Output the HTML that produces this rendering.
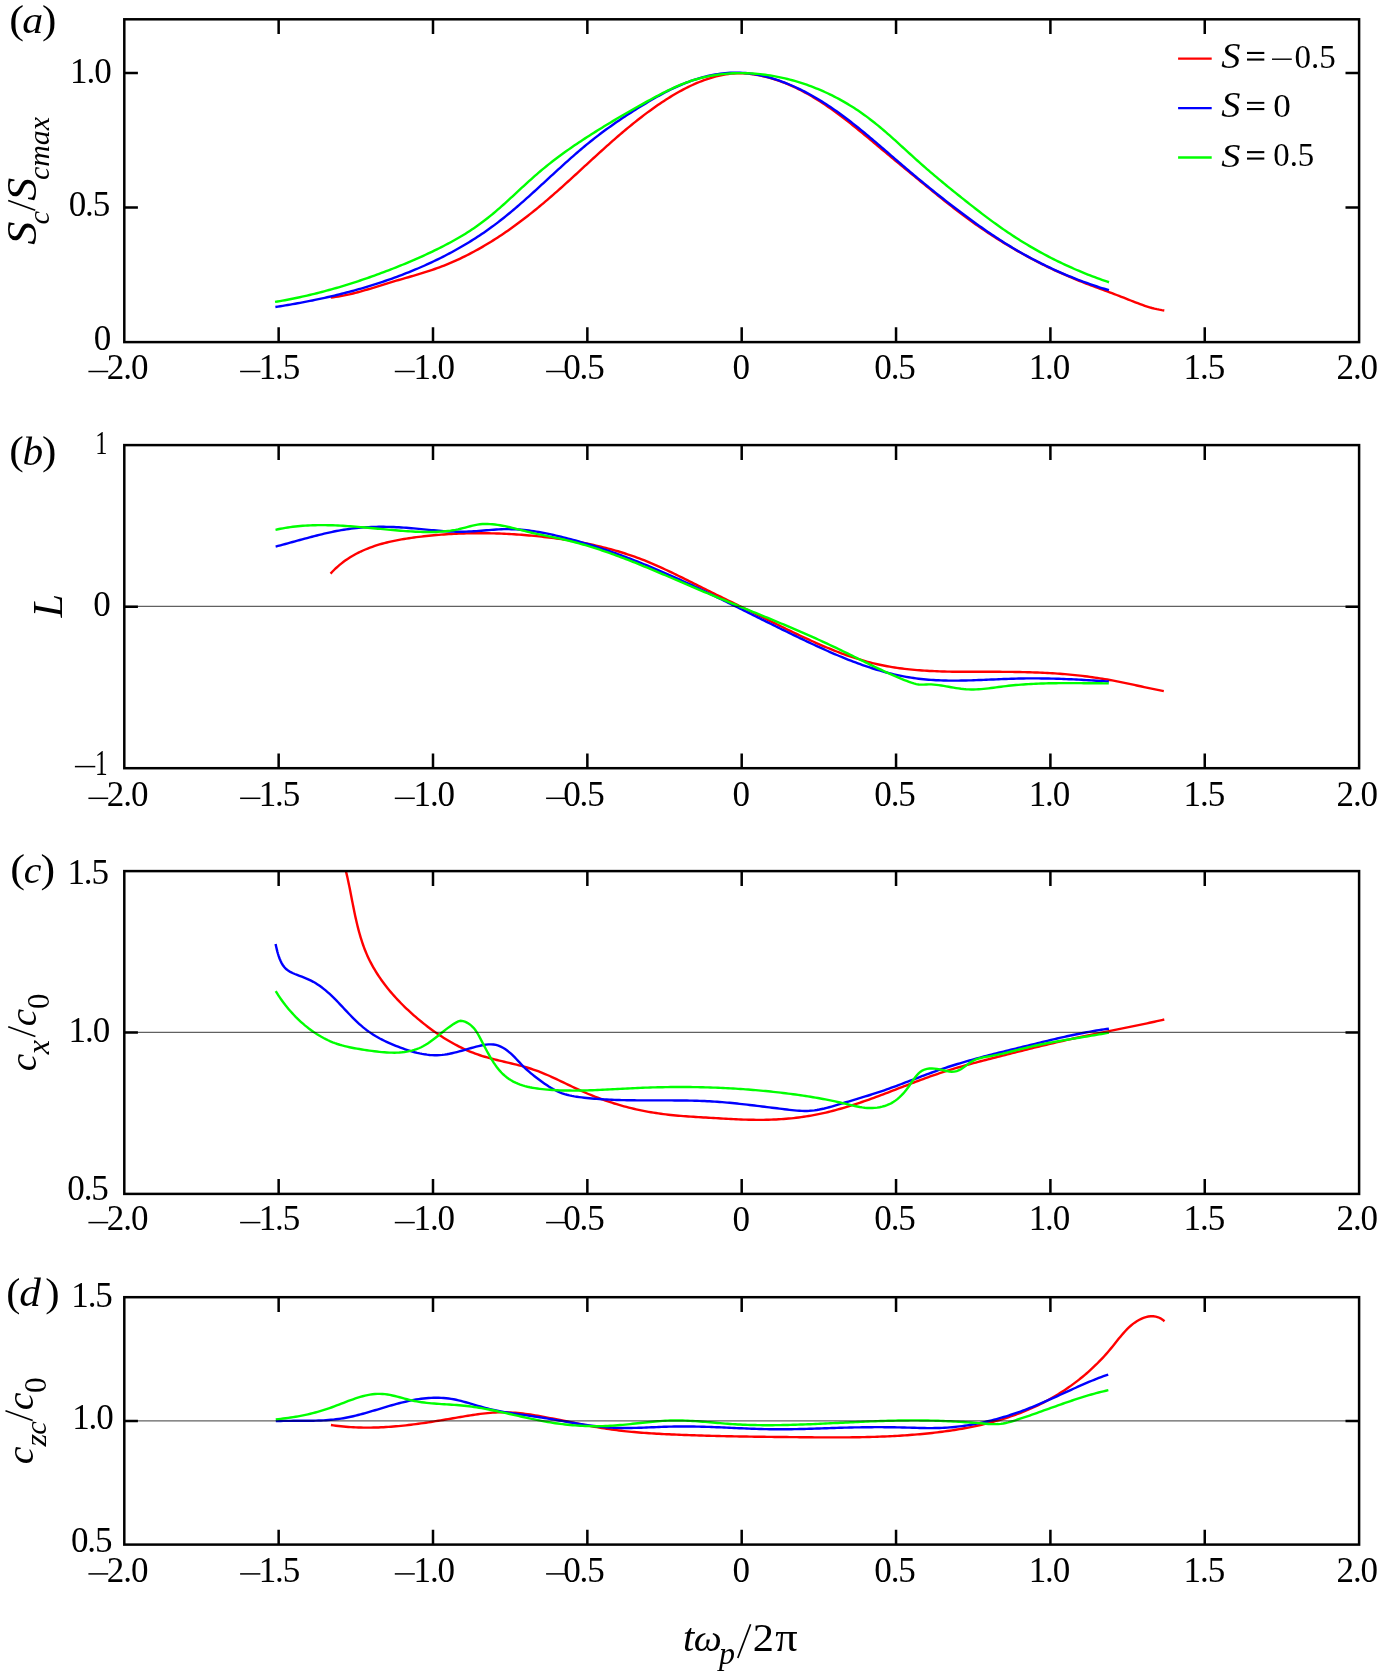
<!DOCTYPE html>
<html><head><meta charset="utf-8"><style>
html,body{margin:0;padding:0;background:#fff;}
body{width:1380px;height:1675px;overflow:hidden;}
svg{display:block;will-change:transform;}
text{font-family:"Liberation Serif",serif;fill:#000;font-kerning:none;}
.n{font-size:35px;letter-spacing:-1.1px;}
</style></head><body>
<svg width="1380" height="1675" viewBox="0 0 1380 1675">
<rect width="1380" height="1675" fill="#fff"/>
<path d="M330.75 297.51L333.24 297.22L335.73 296.88L338.21 296.51L340.68 296.09L343.15 295.64L345.61 295.15L348.07 294.62L350.52 294.07L352.96 293.48L355.39 292.87L357.82 292.24L360.24 291.58L362.66 290.90L365.07 290.21L367.48 289.50L369.88 288.78L372.28 288.05L374.68 287.31L377.08 286.57L379.48 285.83L381.87 285.08L384.27 284.34L386.67 283.60L389.07 282.87L391.48 282.15L393.88 281.43L396.29 280.72L398.70 280.02L401.11 279.32L403.52 278.62L405.93 277.93L408.34 277.23L410.75 276.52L413.16 275.82L415.57 275.11L417.97 274.39L420.37 273.66L422.77 272.92L425.16 272.16L427.55 271.40L429.94 270.62L432.32 269.82L434.69 269.00L437.06 268.16L439.42 267.30L441.76 266.42L444.10 265.51L446.44 264.58L448.76 263.63L451.07 262.65L453.37 261.66L455.67 260.64L457.95 259.60L460.23 258.54L462.49 257.45L464.75 256.35L466.99 255.23L469.23 254.09L471.45 252.93L473.67 251.75L475.88 250.56L478.07 249.34L480.26 248.11L482.44 246.86L484.60 245.59L486.76 244.31L488.91 243.01L491.05 241.70L493.17 240.37L495.29 239.02L497.40 237.66L499.50 236.29L501.59 234.90L503.68 233.50L505.75 232.08L507.81 230.66L509.87 229.21L511.91 227.76L513.95 226.30L515.98 224.82L518.00 223.33L520.01 221.83L522.02 220.32L524.01 218.80L526.00 217.26L527.98 215.72L529.95 214.17L531.92 212.61L533.88 211.04L535.83 209.46L537.77 207.87L539.71 206.27L541.64 204.67L543.56 203.05L545.47 201.43L547.38 199.80L549.29 198.17L551.19 196.53L553.08 194.88L554.96 193.22L556.85 191.56L558.73 189.90L560.60 188.23L562.47 186.55L564.33 184.87L566.20 183.19L568.06 181.51L569.91 179.82L571.77 178.13L573.62 176.43L575.47 174.74L577.32 173.04L579.17 171.34L581.01 169.64L582.86 167.94L584.71 166.24L586.55 164.54L588.40 162.84L590.25 161.14L592.09 159.44L593.95 157.75L595.80 156.05L597.65 154.36L599.51 152.67L601.37 150.99L603.23 149.30L605.09 147.63L606.96 145.95L608.84 144.28L610.71 142.61L612.60 140.95L614.48 139.30L616.38 137.65L618.27 136.01L620.18 134.37L622.09 132.74L624.00 131.12L625.93 129.51L627.86 127.91L629.79 126.31L631.74 124.72L633.69 123.14L635.65 121.58L637.62 120.02L639.60 118.47L641.58 116.94L643.58 115.41L645.58 113.90L647.59 112.40L649.61 110.92L651.65 109.44L653.69 107.98L655.74 106.54L657.80 105.11L659.87 103.69L661.96 102.29L664.05 100.91L666.16 99.55L668.28 98.20L670.41 96.88L672.55 95.57L674.71 94.29L676.88 93.03L679.07 91.80L681.27 90.59L683.49 89.41L685.71 88.26L687.96 87.14L690.22 86.04L692.49 84.98L694.78 83.96L697.09 82.96L699.41 82.01L701.75 81.09L704.10 80.21L706.46 79.37L708.84 78.57L711.24 77.82L713.64 77.11L716.06 76.45L718.50 75.84L720.95 75.29L723.41 74.79L725.88 74.35L728.36 73.98L730.85 73.68L733.35 73.45L735.86 73.29L738.36 73.21L740.87 73.21L743.38 73.29L745.89 73.45L748.39 73.67L750.88 73.96L753.37 74.31L755.84 74.72L758.31 75.17L760.77 75.67L763.22 76.22L765.66 76.81L768.09 77.44L770.51 78.12L772.91 78.83L775.30 79.59L777.69 80.38L780.05 81.21L782.41 82.08L784.75 82.99L787.08 83.93L789.39 84.91L791.69 85.92L793.97 86.96L796.24 88.03L798.49 89.13L800.73 90.26L802.96 91.42L805.17 92.61L807.37 93.82L809.55 95.06L811.72 96.32L813.88 97.60L816.02 98.91L818.15 100.24L820.27 101.58L822.38 102.95L824.47 104.34L826.55 105.74L828.62 107.16L830.68 108.60L832.72 110.05L834.76 111.51L836.79 112.99L838.81 114.49L840.82 115.99L842.82 117.51L844.81 119.03L846.79 120.57L848.77 122.12L850.74 123.67L852.70 125.23L854.66 126.80L856.61 128.38L858.56 129.96L860.50 131.55L862.44 133.15L864.38 134.74L866.31 136.35L868.24 137.95L870.17 139.56L872.10 141.17L874.02 142.78L875.94 144.39L877.87 146.00L879.79 147.61L881.72 149.22L883.65 150.83L885.57 152.44L887.50 154.04L889.43 155.65L891.36 157.25L893.29 158.85L895.23 160.46L897.16 162.06L899.09 163.66L901.03 165.26L902.96 166.85L904.90 168.45L906.84 170.05L908.77 171.64L910.71 173.24L912.65 174.83L914.59 176.43L916.53 178.02L918.47 179.61L920.41 181.20L922.35 182.79L924.29 184.39L926.23 185.98L928.18 187.56L930.12 189.15L932.07 190.74L934.01 192.32L935.96 193.90L937.91 195.48L939.87 197.05L941.83 198.62L943.79 200.19L945.75 201.75L947.72 203.31L949.69 204.86L951.67 206.41L953.65 207.95L955.64 209.49L957.63 211.01L959.62 212.53L961.62 214.05L963.63 215.55L965.65 217.05L967.67 218.54L969.69 220.02L971.73 221.49L973.77 222.95L975.81 224.41L977.87 225.85L979.93 227.28L982.00 228.70L984.07 230.12L986.15 231.52L988.24 232.91L990.34 234.30L992.44 235.67L994.54 237.03L996.66 238.38L998.78 239.73L1000.91 241.06L1003.04 242.38L1005.18 243.69L1007.33 244.99L1009.48 246.28L1011.64 247.56L1013.80 248.83L1015.98 250.09L1018.15 251.34L1020.34 252.57L1022.53 253.80L1024.72 255.01L1026.93 256.22L1029.13 257.41L1031.35 258.59L1033.57 259.76L1035.79 260.92L1038.03 262.07L1040.26 263.21L1042.51 264.33L1044.76 265.45L1047.01 266.55L1049.27 267.64L1051.54 268.72L1053.81 269.79L1056.08 270.85L1058.37 271.89L1060.65 272.93L1062.95 273.95L1065.24 274.96L1067.55 275.95L1069.85 276.94L1072.17 277.91L1074.49 278.88L1076.81 279.83L1079.14 280.77L1081.47 281.69L1083.81 282.61L1086.15 283.52L1088.49 284.42L1090.83 285.31L1093.18 286.20L1095.53 287.08L1097.88 287.96L1100.23 288.84L1102.59 289.71L1104.94 290.59L1107.29 291.46L1109.64 292.34L1111.99 293.22L1114.34 294.11L1116.69 295.00L1119.03 295.89L1121.37 296.80L1123.71 297.71L1126.05 298.63L1128.38 299.56L1130.71 300.49L1133.04 301.41L1135.38 302.33L1137.72 303.23L1140.07 304.11L1142.43 304.97L1144.80 305.79L1147.19 306.57L1149.59 307.31L1152.00 308.00L1154.43 308.63L1156.87 309.19L1159.33 309.69L1161.81 310.11L1164.29 310.46" stroke="#f00" stroke-width="2.4" fill="none"/>
<path d="M275.37 307.01L277.85 306.63L280.33 306.24L282.80 305.84L285.28 305.44L287.75 305.03L290.22 304.61L292.69 304.18L295.16 303.74L297.63 303.30L300.10 302.84L302.56 302.38L305.02 301.91L307.48 301.43L309.94 300.94L312.40 300.45L314.86 299.94L317.31 299.43L319.76 298.90L322.21 298.37L324.66 297.83L327.11 297.28L329.55 296.72L331.99 296.15L334.43 295.57L336.87 294.98L339.30 294.38L341.73 293.77L344.16 293.15L346.59 292.52L349.01 291.88L351.44 291.23L353.86 290.57L356.27 289.90L358.68 289.22L361.09 288.53L363.50 287.83L365.90 287.12L368.31 286.39L370.70 285.66L373.10 284.91L375.49 284.15L377.87 283.38L380.26 282.60L382.63 281.81L385.01 281.01L387.38 280.19L389.75 279.37L392.11 278.53L394.47 277.68L396.82 276.82L399.17 275.94L401.52 275.05L403.86 274.15L406.19 273.24L408.52 272.32L410.85 271.38L413.17 270.43L415.48 269.46L417.79 268.49L420.10 267.50L422.39 266.49L424.68 265.48L426.97 264.45L429.25 263.40L431.52 262.35L433.79 261.28L436.05 260.19L438.30 259.09L440.55 257.98L442.79 256.85L445.02 255.71L447.25 254.55L449.47 253.38L451.68 252.20L453.88 251.00L456.07 249.79L458.26 248.56L460.43 247.32L462.60 246.06L464.76 244.78L466.91 243.50L469.06 242.19L471.19 240.87L473.31 239.54L475.42 238.19L477.53 236.83L479.62 235.45L481.70 234.05L483.78 232.64L485.84 231.21L487.89 229.77L489.93 228.31L491.96 226.84L493.97 225.35L495.98 223.85L497.97 222.33L499.96 220.79L501.93 219.25L503.90 217.69L505.85 216.12L507.80 214.54L509.73 212.95L511.66 211.34L513.58 209.73L515.49 208.11L517.40 206.48L519.29 204.84L521.18 203.19L523.07 201.54L524.95 199.88L526.82 198.21L528.69 196.54L530.56 194.87L532.42 193.18L534.27 191.50L536.13 189.81L537.98 188.12L539.83 186.43L541.67 184.73L543.52 183.03L545.36 181.34L547.21 179.64L549.05 177.94L550.89 176.24L552.74 174.54L554.59 172.84L556.43 171.15L558.28 169.46L560.13 167.77L561.99 166.08L563.85 164.40L565.71 162.72L567.58 161.05L569.45 159.38L571.33 157.71L573.21 156.06L575.09 154.41L576.99 152.76L578.89 151.13L580.80 149.50L582.71 147.88L584.64 146.28L586.57 144.68L588.51 143.09L590.46 141.51L592.42 139.95L594.39 138.40L596.37 136.86L598.35 135.33L600.35 133.81L602.36 132.31L604.37 130.82L606.39 129.33L608.42 127.86L610.46 126.41L612.51 124.96L614.56 123.52L616.62 122.09L618.69 120.68L620.77 119.27L622.85 117.87L624.94 116.49L627.03 115.11L629.14 113.74L631.24 112.38L633.35 111.03L635.47 109.69L637.60 108.35L639.72 107.03L641.86 105.71L644.00 104.40L646.14 103.10L648.29 101.82L650.45 100.54L652.62 99.28L654.79 98.03L656.97 96.80L659.16 95.58L661.37 94.38L663.58 93.20L665.80 92.04L668.03 90.89L670.28 89.78L672.53 88.68L674.80 87.61L677.08 86.57L679.37 85.55L681.67 84.56L683.99 83.61L686.32 82.68L688.66 81.79L691.02 80.93L693.39 80.11L695.77 79.32L698.16 78.58L700.57 77.87L702.99 77.20L705.41 76.58L707.85 75.99L710.30 75.45L712.76 74.95L715.22 74.50L717.70 74.10L720.18 73.75L722.67 73.44L725.16 73.18L727.66 72.98L730.16 72.82L732.67 72.73L735.18 72.68L737.68 72.69L740.19 72.76L742.69 72.89L745.19 73.07L747.69 73.31L750.18 73.60L752.66 73.94L755.14 74.34L757.61 74.78L760.07 75.26L762.52 75.80L764.96 76.37L767.39 76.99L769.80 77.65L772.21 78.35L774.61 79.09L776.99 79.87L779.36 80.68L781.72 81.53L784.07 82.41L786.41 83.32L788.73 84.26L791.04 85.24L793.34 86.24L795.62 87.27L797.89 88.33L800.15 89.42L802.40 90.53L804.63 91.67L806.86 92.83L809.06 94.02L811.26 95.23L813.44 96.47L815.61 97.72L817.77 99.00L819.91 100.30L822.05 101.62L824.17 102.95L826.28 104.31L828.37 105.68L830.46 107.08L832.53 108.48L834.60 109.91L836.65 111.35L838.69 112.80L840.72 114.27L842.75 115.75L844.76 117.25L846.76 118.76L848.76 120.28L850.74 121.81L852.72 123.35L854.69 124.90L856.65 126.46L858.61 128.03L860.56 129.60L862.50 131.19L864.44 132.78L866.37 134.38L868.29 135.99L870.22 137.60L872.13 139.21L874.04 140.83L875.95 142.46L877.86 144.09L879.76 145.72L881.66 147.35L883.56 148.99L885.46 150.63L887.36 152.27L889.25 153.91L891.15 155.55L893.04 157.19L894.94 158.83L896.84 160.47L898.74 162.11L900.64 163.75L902.54 165.38L904.44 167.01L906.35 168.63L908.26 170.26L910.18 171.88L912.10 173.49L914.02 175.10L915.94 176.71L917.87 178.31L919.80 179.91L921.73 181.51L923.67 183.10L925.61 184.69L927.55 186.28L929.50 187.86L931.45 189.43L933.40 191.00L935.36 192.57L937.32 194.14L939.28 195.70L941.24 197.25L943.21 198.80L945.19 200.35L947.16 201.89L949.14 203.43L951.13 204.96L953.11 206.49L955.10 208.02L957.10 209.54L959.09 211.06L961.09 212.57L963.10 214.07L965.11 215.58L967.12 217.07L969.14 218.56L971.16 220.04L973.18 221.52L975.22 222.99L977.25 224.45L979.29 225.91L981.34 227.35L983.39 228.79L985.45 230.22L987.52 231.65L989.59 233.06L991.67 234.46L993.75 235.86L995.84 237.24L997.94 238.61L1000.04 239.98L1002.16 241.33L1004.27 242.67L1006.40 244.00L1008.53 245.31L1010.68 246.62L1012.82 247.91L1014.98 249.19L1017.14 250.46L1019.31 251.71L1021.49 252.95L1023.68 254.18L1025.87 255.40L1028.07 256.60L1030.27 257.79L1032.49 258.97L1034.71 260.14L1036.93 261.29L1039.17 262.43L1041.41 263.56L1043.65 264.67L1045.91 265.77L1048.17 266.86L1050.43 267.93L1052.70 268.99L1054.98 270.04L1057.27 271.07L1059.56 272.09L1061.85 273.10L1064.16 274.09L1066.46 275.07L1068.78 276.03L1071.10 276.98L1073.43 277.92L1075.76 278.84L1078.09 279.75L1080.44 280.64L1082.78 281.52L1085.14 282.38L1087.50 283.23L1089.86 284.07L1092.23 284.89L1094.60 285.70L1096.98 286.49L1099.37 287.27L1101.75 288.03L1104.15 288.77L1106.55 289.51L1108.95 290.22" stroke="#00f" stroke-width="2.4" fill="none"/>
<path d="M275.04 301.94L277.52 301.52L279.99 301.09L282.47 300.65L284.94 300.20L287.40 299.73L289.87 299.26L292.33 298.77L294.79 298.27L297.25 297.75L299.70 297.23L302.16 296.69L304.61 296.14L307.05 295.58L309.50 295.01L311.94 294.42L314.38 293.83L316.82 293.22L319.25 292.61L321.68 291.98L324.11 291.34L326.54 290.69L328.96 290.03L331.38 289.36L333.79 288.68L336.21 287.98L338.62 287.28L341.03 286.57L343.43 285.85L345.83 285.11L348.23 284.37L350.63 283.62L353.02 282.85L355.41 282.08L357.79 281.30L360.18 280.51L362.56 279.71L364.93 278.90L367.31 278.08L369.68 277.25L372.04 276.42L374.41 275.57L376.77 274.72L379.13 273.85L381.48 272.98L383.83 272.10L386.18 271.21L388.53 270.32L390.87 269.41L393.21 268.50L395.54 267.58L397.88 266.65L400.21 265.71L402.53 264.76L404.85 263.81L407.17 262.84L409.48 261.87L411.79 260.88L414.10 259.89L416.40 258.88L418.70 257.87L420.99 256.84L423.28 255.80L425.56 254.76L427.83 253.70L430.11 252.63L432.37 251.55L434.63 250.45L436.89 249.35L439.14 248.23L441.38 247.10L443.61 245.96L445.84 244.80L448.06 243.63L450.28 242.45L452.48 241.25L454.68 240.03L456.86 238.79L459.04 237.54L461.20 236.27L463.35 234.97L465.49 233.66L467.62 232.32L469.73 230.96L471.83 229.58L473.91 228.18L475.98 226.75L478.03 225.30L480.06 223.83L482.08 222.34L484.08 220.82L486.07 219.29L488.04 217.73L490.00 216.16L491.94 214.57L493.87 212.96L495.79 211.34L497.69 209.71L499.59 208.06L501.47 206.40L503.35 204.73L505.22 203.05L507.08 201.37L508.93 199.67L510.78 197.98L512.63 196.27L514.47 194.57L516.31 192.86L518.15 191.15L519.99 189.45L521.84 187.74L523.68 186.04L525.53 184.34L527.38 182.64L529.24 180.96L531.10 179.27L532.98 177.60L534.86 175.94L536.75 174.28L538.65 172.64L540.56 171.02L542.48 169.40L544.42 167.81L546.37 166.22L548.33 164.65L550.30 163.09L552.27 161.55L554.26 160.01L556.26 158.49L558.27 156.99L560.29 155.49L562.31 154.01L564.35 152.54L566.39 151.07L568.44 149.62L570.50 148.19L572.56 146.76L574.63 145.34L576.71 143.93L578.79 142.53L580.88 141.14L582.98 139.75L585.08 138.38L587.19 137.01L589.30 135.65L591.42 134.30L593.54 132.96L595.66 131.62L597.79 130.29L599.92 128.96L602.06 127.65L604.20 126.33L606.35 125.03L608.49 123.73L610.65 122.43L612.80 121.15L614.96 119.86L617.12 118.58L619.28 117.31L621.45 116.04L623.62 114.78L625.79 113.52L627.97 112.27L630.15 111.02L632.33 109.78L634.51 108.53L636.70 107.30L638.88 106.06L641.07 104.83L643.26 103.61L645.46 102.38L647.65 101.17L649.85 99.95L652.05 98.75L654.26 97.55L656.47 96.36L658.69 95.19L660.92 94.03L663.15 92.88L665.40 91.75L667.65 90.65L669.91 89.56L672.18 88.49L674.47 87.45L676.76 86.43L679.07 85.44L681.39 84.48L683.73 83.56L686.07 82.67L688.43 81.81L690.81 80.99L693.19 80.21L695.60 79.48L698.01 78.79L700.43 78.13L702.87 77.52L705.31 76.95L707.77 76.42L710.23 75.94L712.70 75.49L715.18 75.08L717.66 74.71L720.15 74.38L722.65 74.10L725.15 73.84L727.65 73.63L730.15 73.46L732.66 73.32L735.17 73.22L737.68 73.16L740.19 73.13L742.70 73.14L745.21 73.18L747.72 73.26L750.23 73.38L752.73 73.52L755.24 73.71L757.74 73.92L760.24 74.17L762.73 74.45L765.22 74.77L767.71 75.11L770.19 75.49L772.67 75.90L775.14 76.34L777.61 76.81L780.07 77.31L782.52 77.84L784.97 78.40L787.41 78.99L789.85 79.61L792.27 80.25L794.69 80.93L797.10 81.63L799.50 82.37L801.89 83.13L804.28 83.91L806.65 84.73L809.02 85.57L811.37 86.44L813.72 87.34L816.05 88.26L818.38 89.21L820.69 90.19L823.00 91.19L825.29 92.22L827.57 93.27L829.83 94.35L832.09 95.45L834.33 96.58L836.56 97.74L838.78 98.92L840.98 100.12L843.17 101.35L845.35 102.60L847.51 103.88L849.66 105.18L851.79 106.50L853.91 107.85L856.01 109.22L858.10 110.61L860.18 112.02L862.24 113.46L864.28 114.92L866.31 116.40L868.32 117.90L870.32 119.43L872.30 120.96L874.27 122.52L876.23 124.10L878.17 125.68L880.10 127.29L882.03 128.90L883.94 130.53L885.84 132.17L887.74 133.81L889.62 135.47L891.50 137.13L893.38 138.81L895.24 140.48L897.11 142.17L898.97 143.85L900.82 145.54L902.68 147.24L904.53 148.93L906.39 150.62L908.24 152.32L910.09 154.01L911.95 155.70L913.81 157.39L915.67 159.07L917.54 160.75L919.41 162.42L921.29 164.09L923.17 165.75L925.06 167.40L926.96 169.05L928.86 170.69L930.76 172.33L932.67 173.96L934.59 175.58L936.51 177.20L938.43 178.81L940.36 180.42L942.29 182.03L944.23 183.63L946.17 185.22L948.11 186.81L950.05 188.40L952.00 189.98L953.96 191.56L955.91 193.14L957.87 194.71L959.83 196.28L961.79 197.84L963.76 199.41L965.72 200.97L967.69 202.53L969.66 204.08L971.64 205.63L973.61 207.18L975.59 208.73L977.58 210.27L979.56 211.80L981.55 213.33L983.55 214.85L985.55 216.37L987.56 217.88L989.57 219.38L991.59 220.87L993.62 222.36L995.65 223.83L997.69 225.30L999.73 226.75L1001.78 228.20L1003.85 229.63L1005.91 231.06L1007.99 232.47L1010.08 233.86L1012.17 235.25L1014.27 236.62L1016.38 237.98L1018.50 239.33L1020.63 240.66L1022.76 241.99L1024.91 243.29L1027.06 244.59L1029.22 245.87L1031.38 247.14L1033.56 248.40L1035.74 249.64L1037.93 250.87L1040.12 252.09L1042.33 253.30L1044.54 254.49L1046.75 255.66L1048.98 256.83L1051.21 257.98L1053.45 259.12L1055.69 260.24L1057.95 261.35L1060.20 262.45L1062.47 263.53L1064.74 264.60L1067.02 265.65L1069.30 266.69L1071.60 267.72L1073.89 268.74L1076.20 269.74L1078.50 270.72L1080.82 271.69L1083.14 272.65L1085.47 273.60L1087.80 274.53L1090.14 275.44L1092.48 276.34L1094.83 277.23L1097.18 278.10L1099.54 278.96L1101.91 279.81L1104.28 280.64L1106.65 281.45L1109.03 282.25" stroke="#0f0" stroke-width="2.4" fill="none"/>
<path d="M330.57 573.61L332.28 571.77L334.04 569.98L335.85 568.24L337.71 566.56L339.62 564.92L341.56 563.34L343.55 561.81L345.59 560.34L347.65 558.92L349.76 557.56L351.90 556.25L354.07 554.99L356.28 553.79L358.51 552.64L360.76 551.54L363.04 550.50L365.34 549.50L367.67 548.55L370.01 547.64L372.36 546.79L374.74 545.97L377.12 545.20L379.52 544.46L381.94 543.77L384.36 543.11L386.79 542.49L389.23 541.90L391.67 541.34L394.13 540.82L396.59 540.32L399.05 539.85L401.52 539.40L403.99 538.98L406.47 538.58L408.95 538.21L411.43 537.85L413.92 537.51L416.41 537.18L418.90 536.88L421.39 536.58L423.88 536.30L426.38 536.03L428.87 535.77L431.37 535.53L433.87 535.29L436.37 535.07L438.87 534.87L441.37 534.67L443.87 534.49L446.38 534.32L448.88 534.16L451.39 534.02L453.89 533.89L456.40 533.77L458.91 533.66L461.41 533.57L463.92 533.48L466.43 533.41L468.94 533.35L471.45 533.31L473.96 533.27L476.46 533.25L478.97 533.24L481.48 533.24L483.99 533.25L486.50 533.28L489.01 533.31L491.52 533.36L494.03 533.42L496.54 533.49L499.04 533.57L501.55 533.67L504.06 533.77L506.56 533.89L509.07 534.02L511.58 534.16L514.08 534.30L516.58 534.47L519.09 534.64L521.59 534.82L524.09 535.01L526.59 535.22L529.09 535.43L531.59 535.66L534.09 535.89L536.59 536.14L539.08 536.39L541.58 536.66L544.07 536.94L546.56 537.22L549.06 537.52L551.55 537.83L554.03 538.15L556.52 538.48L559.01 538.83L561.49 539.18L563.97 539.55L566.45 539.93L568.93 540.33L571.41 540.73L573.88 541.15L576.35 541.59L578.82 542.03L581.29 542.50L583.75 542.97L586.21 543.46L588.67 543.97L591.12 544.49L593.58 545.02L596.02 545.57L598.47 546.14L600.91 546.72L603.35 547.32L605.78 547.94L608.21 548.57L610.63 549.22L613.05 549.89L615.46 550.57L617.87 551.27L620.27 551.99L622.67 552.73L625.06 553.49L627.45 554.27L629.83 555.06L632.20 555.88L634.57 556.71L636.93 557.56L639.28 558.44L641.63 559.33L643.96 560.24L646.29 561.18L648.62 562.13L650.93 563.09L653.24 564.08L655.54 565.08L657.83 566.09L660.12 567.12L662.41 568.16L664.68 569.22L666.96 570.28L669.23 571.35L671.49 572.43L673.75 573.52L676.01 574.62L678.26 575.73L680.51 576.84L682.76 577.95L685.00 579.07L687.25 580.19L689.49 581.31L691.73 582.44L693.98 583.57L696.22 584.69L698.46 585.81L700.71 586.94L702.95 588.06L705.20 589.17L707.45 590.29L709.70 591.40L711.95 592.51L714.20 593.62L716.45 594.73L718.70 595.83L720.95 596.94L723.21 598.04L725.46 599.14L727.72 600.24L729.97 601.34L732.23 602.44L734.48 603.54L736.74 604.64L739.00 605.74L741.25 606.84L743.51 607.94L745.76 609.04L748.02 610.14L750.27 611.24L752.53 612.34L754.78 613.44L757.03 614.55L759.28 615.66L761.54 616.76L763.79 617.87L766.04 618.98L768.29 620.09L770.53 621.21L772.78 622.32L775.03 623.43L777.28 624.54L779.54 625.65L781.79 626.75L784.04 627.86L786.30 628.96L788.55 630.06L790.81 631.15L793.07 632.24L795.33 633.33L797.60 634.41L799.86 635.48L802.14 636.55L804.41 637.61L806.69 638.66L808.97 639.71L811.25 640.75L813.54 641.78L815.83 642.80L818.13 643.81L820.43 644.81L822.73 645.81L825.04 646.79L827.36 647.75L829.68 648.71L832.00 649.65L834.33 650.58L836.67 651.50L839.01 652.40L841.36 653.28L843.71 654.15L846.07 655.00L848.44 655.84L850.81 656.65L853.19 657.45L855.58 658.23L857.97 658.98L860.37 659.72L862.77 660.43L865.19 661.12L867.61 661.79L870.03 662.43L872.46 663.05L874.90 663.65L877.34 664.21L879.79 664.75L882.25 665.27L884.71 665.76L887.18 666.22L889.65 666.66L892.12 667.08L894.60 667.47L897.08 667.84L899.57 668.19L902.05 668.52L904.54 668.83L907.04 669.12L909.53 669.39L912.03 669.64L914.53 669.87L917.03 670.09L919.53 670.29L922.03 670.47L924.53 670.64L927.04 670.79L929.54 670.93L932.05 671.06L934.56 671.17L937.06 671.28L939.57 671.37L942.08 671.45L944.59 671.52L947.09 671.58L949.60 671.63L952.11 671.68L954.62 671.71L957.13 671.74L959.64 671.77L962.15 671.79L964.66 671.80L967.17 671.81L969.68 671.82L972.18 671.82L974.69 671.82L977.20 671.82L979.71 671.81L982.22 671.81L984.73 671.81L987.24 671.80L989.75 671.80L992.26 671.80L994.77 671.81L997.28 671.81L999.79 671.82L1002.29 671.83L1004.80 671.85L1007.31 671.86L1009.82 671.89L1012.33 671.92L1014.84 671.95L1017.35 671.99L1019.86 672.03L1022.37 672.08L1024.88 672.13L1027.38 672.20L1029.89 672.27L1032.40 672.34L1034.91 672.43L1037.42 672.52L1039.92 672.62L1042.43 672.73L1044.94 672.85L1047.44 672.97L1049.95 673.11L1052.45 673.26L1054.96 673.42L1057.46 673.58L1059.96 673.76L1062.46 673.95L1064.97 674.15L1067.47 674.37L1069.96 674.59L1072.46 674.83L1074.96 675.08L1077.45 675.35L1079.95 675.63L1082.44 675.92L1084.93 676.22L1087.42 676.54L1089.91 676.87L1092.39 677.21L1094.88 677.57L1097.36 677.94L1099.84 678.32L1102.32 678.72L1104.79 679.12L1107.27 679.54L1109.74 679.98L1112.21 680.42L1114.67 680.88L1117.14 681.35L1119.60 681.83L1122.06 682.33L1124.52 682.83L1126.97 683.35L1129.43 683.87L1131.88 684.40L1134.33 684.93L1136.78 685.47L1139.23 686.01L1141.69 686.54L1144.14 687.08L1146.59 687.61L1149.04 688.13L1151.50 688.65L1153.96 689.16L1156.41 689.66L1158.88 690.14L1161.34 690.61L1163.81 691.07" stroke="#f00" stroke-width="2.4" fill="none"/>
<path d="M275.64 546.55L278.07 545.92L280.50 545.29L282.92 544.65L285.34 544.00L287.76 543.34L290.18 542.68L292.60 542.02L295.02 541.35L297.43 540.69L299.85 540.02L302.27 539.36L304.69 538.70L307.11 538.04L309.53 537.39L311.96 536.75L314.38 536.12L316.81 535.50L319.25 534.89L321.68 534.29L324.12 533.70L326.56 533.14L329.01 532.58L331.46 532.05L333.91 531.54L336.37 531.04L338.83 530.57L341.30 530.13L343.77 529.71L346.25 529.32L348.73 528.95L351.22 528.62L353.71 528.31L356.20 528.04L358.69 527.79L361.19 527.58L363.69 527.39L366.20 527.23L368.70 527.10L371.21 526.99L373.71 526.91L376.22 526.85L378.73 526.82L381.23 526.81L383.74 526.82L386.25 526.85L388.76 526.91L391.26 526.98L393.77 527.07L396.27 527.18L398.78 527.31L401.28 527.45L403.78 527.61L406.28 527.79L408.79 527.98L411.28 528.19L413.78 528.40L416.28 528.63L418.78 528.87L421.27 529.11L423.77 529.35L426.26 529.60L428.76 529.84L431.26 530.08L433.75 530.31L436.25 530.54L438.75 530.75L441.25 530.94L443.75 531.13L446.25 531.29L448.76 531.43L451.26 531.54L453.77 531.63L456.27 531.69L458.78 531.72L461.29 531.72L463.80 531.68L466.30 531.61L468.81 531.51L471.31 531.39L473.82 531.24L476.32 531.08L478.82 530.90L481.32 530.71L483.82 530.51L486.32 530.31L488.82 530.11L491.32 529.90L493.82 529.71L496.32 529.53L498.82 529.37L501.33 529.25L503.83 529.17L506.34 529.13L508.85 529.13L511.36 529.18L513.86 529.27L516.37 529.39L518.87 529.56L521.37 529.76L523.86 529.99L526.36 530.26L528.85 530.56L531.33 530.89L533.82 531.24L536.29 531.63L538.77 532.04L541.24 532.48L543.70 532.94L546.16 533.43L548.62 533.93L551.07 534.45L553.52 535.00L555.96 535.55L558.40 536.13L560.84 536.71L563.28 537.32L565.71 537.93L568.14 538.56L570.56 539.20L572.98 539.85L575.40 540.51L577.82 541.19L580.23 541.87L582.63 542.57L585.04 543.28L587.44 544.00L589.84 544.74L592.23 545.48L594.63 546.24L597.01 547.00L599.40 547.78L601.78 548.56L604.16 549.36L606.53 550.16L608.90 550.98L611.27 551.80L613.64 552.64L616.00 553.48L618.36 554.33L620.71 555.19L623.06 556.06L625.41 556.94L627.76 557.83L630.10 558.72L632.44 559.63L634.78 560.54L637.11 561.46L639.44 562.38L641.77 563.32L644.09 564.26L646.41 565.21L648.73 566.16L651.05 567.12L653.36 568.09L655.67 569.07L657.98 570.05L660.28 571.04L662.59 572.03L664.89 573.03L667.18 574.04L669.48 575.05L671.77 576.06L674.06 577.09L676.35 578.11L678.63 579.15L680.91 580.18L683.20 581.23L685.47 582.27L687.75 583.32L690.03 584.38L692.30 585.44L694.57 586.50L696.84 587.57L699.10 588.64L701.37 589.72L703.63 590.80L705.90 591.88L708.16 592.97L710.42 594.05L712.67 595.14L714.93 596.24L717.18 597.33L719.44 598.43L721.69 599.53L723.94 600.64L726.19 601.74L728.44 602.85L730.69 603.96L732.94 605.07L735.19 606.18L737.44 607.29L739.68 608.41L741.93 609.52L744.18 610.64L746.42 611.75L748.67 612.87L750.91 613.99L753.16 615.10L755.40 616.22L757.65 617.34L759.89 618.45L762.14 619.57L764.38 620.69L766.63 621.80L768.88 622.92L771.12 624.03L773.37 625.14L775.62 626.25L777.87 627.36L780.12 628.47L782.37 629.57L784.62 630.68L786.87 631.78L789.13 632.88L791.38 633.97L793.64 635.07L795.90 636.16L798.15 637.25L800.41 638.34L802.68 639.42L804.94 640.50L807.20 641.58L809.47 642.65L811.74 643.72L814.01 644.78L816.29 645.83L818.56 646.88L820.84 647.93L823.13 648.96L825.41 649.99L827.70 651.02L830.00 652.03L832.30 653.03L834.60 654.03L836.90 655.01L839.21 655.99L841.53 656.95L843.85 657.90L846.17 658.84L848.50 659.77L850.84 660.68L853.18 661.59L855.52 662.47L857.87 663.35L860.23 664.20L862.59 665.05L864.96 665.87L867.33 666.68L869.71 667.47L872.10 668.25L874.49 669.00L876.89 669.74L879.29 670.45L881.70 671.15L884.12 671.82L886.54 672.48L888.96 673.11L891.40 673.72L893.83 674.30L896.28 674.86L898.73 675.40L901.18 675.91L903.64 676.39L906.11 676.85L908.58 677.28L911.05 677.68L913.53 678.06L916.02 678.40L918.51 678.72L921.00 679.01L923.49 679.27L925.99 679.50L928.49 679.71L930.99 679.90L933.49 680.06L935.99 680.20L938.50 680.31L941.00 680.41L943.51 680.49L946.02 680.54L948.52 680.58L951.03 680.61L953.54 680.62L956.05 680.61L958.55 680.59L961.06 680.56L963.57 680.52L966.08 680.47L968.58 680.40L971.09 680.33L973.60 680.25L976.10 680.17L978.61 680.07L981.11 679.98L983.62 679.88L986.12 679.77L988.63 679.66L991.14 679.56L993.64 679.45L996.15 679.34L998.65 679.23L1001.16 679.13L1003.66 679.03L1006.17 678.93L1008.67 678.84L1011.18 678.75L1013.69 678.68L1016.19 678.61L1018.70 678.54L1021.21 678.49L1023.71 678.45L1026.22 678.42L1028.73 678.40L1031.24 678.39L1033.75 678.38L1036.25 678.39L1038.76 678.40L1041.27 678.43L1043.78 678.46L1046.28 678.50L1048.79 678.55L1051.30 678.60L1053.80 678.67L1056.31 678.74L1058.82 678.81L1061.32 678.90L1063.83 678.99L1066.33 679.09L1068.84 679.19L1071.35 679.30L1073.85 679.42L1076.35 679.54L1078.86 679.67L1081.36 679.80L1083.87 679.94L1086.37 680.08L1088.87 680.22L1091.38 680.37L1093.88 680.52L1096.38 680.68L1098.89 680.84L1101.39 681.00L1103.89 681.17L1106.39 681.34L1108.89 681.51" stroke="#00f" stroke-width="2.4" fill="none"/>
<path d="M275.51 529.81L277.96 529.28L280.42 528.78L282.89 528.32L285.37 527.89L287.84 527.50L290.33 527.14L292.82 526.81L295.31 526.52L297.81 526.25L300.31 526.02L302.81 525.81L305.31 525.64L307.82 525.49L310.33 525.36L312.83 525.27L315.34 525.20L317.85 525.15L320.36 525.13L322.87 525.13L325.38 525.14L327.89 525.18L330.40 525.24L332.91 525.32L335.42 525.41L337.93 525.52L340.43 525.65L342.94 525.79L345.45 525.94L347.95 526.11L350.46 526.28L352.96 526.47L355.46 526.67L357.96 526.87L360.46 527.08L362.97 527.30L365.47 527.52L367.97 527.75L370.47 527.98L372.96 528.22L375.46 528.45L377.96 528.69L380.46 528.93L382.96 529.16L385.46 529.40L387.96 529.63L390.46 529.85L392.96 530.07L395.46 530.29L397.96 530.50L400.46 530.70L402.97 530.89L405.47 531.08L407.98 531.25L410.48 531.41L412.99 531.56L415.49 531.69L418.00 531.81L420.51 531.90L423.02 531.98L425.53 532.03L428.04 532.05L430.55 532.04L433.06 532.00L435.57 531.93L438.08 531.82L440.58 531.67L443.08 531.48L445.58 531.25L448.08 530.97L450.57 530.64L453.05 530.25L455.52 529.82L457.98 529.33L460.43 528.78L462.87 528.18L465.29 527.54L467.72 526.88L470.14 526.23L472.58 525.62L475.03 525.07L477.49 524.60L479.98 524.24L482.48 524.02L484.98 523.93L487.49 523.96L490.00 524.09L492.50 524.29L495.00 524.56L497.49 524.89L499.97 525.28L502.44 525.71L504.90 526.19L507.36 526.71L509.81 527.26L512.25 527.84L514.69 528.44L517.12 529.05L519.56 529.68L521.99 530.30L524.42 530.93L526.85 531.54L529.29 532.15L531.73 532.73L534.17 533.30L536.63 533.84L539.08 534.36L541.54 534.88L544.00 535.38L546.46 535.87L548.92 536.36L551.38 536.86L553.84 537.36L556.30 537.86L558.76 538.38L561.21 538.92L563.66 539.47L566.10 540.05L568.54 540.64L570.98 541.24L573.41 541.87L575.83 542.51L578.26 543.16L580.68 543.83L583.09 544.52L585.50 545.22L587.91 545.94L590.31 546.67L592.71 547.42L595.10 548.17L597.49 548.95L599.87 549.73L602.25 550.53L604.63 551.33L607.00 552.15L609.37 552.98L611.74 553.82L614.10 554.68L616.45 555.54L618.81 556.41L621.16 557.29L623.51 558.18L625.85 559.08L628.19 559.98L630.53 560.90L632.87 561.82L635.20 562.74L637.53 563.68L639.86 564.62L642.18 565.57L644.50 566.52L646.82 567.47L649.14 568.44L651.46 569.40L653.77 570.37L656.09 571.35L658.40 572.32L660.71 573.30L663.02 574.29L665.33 575.27L667.64 576.26L669.94 577.25L672.25 578.24L674.56 579.23L676.86 580.22L679.17 581.21L681.48 582.21L683.78 583.20L686.09 584.19L688.40 585.18L690.70 586.17L693.01 587.15L695.32 588.14L697.63 589.12L699.94 590.09L702.26 591.07L704.57 592.04L706.89 593.01L709.20 593.98L711.52 594.94L713.84 595.90L716.16 596.86L718.48 597.82L720.80 598.77L723.13 599.72L725.45 600.67L727.77 601.62L730.10 602.57L732.42 603.52L734.75 604.47L737.07 605.41L739.40 606.36L741.72 607.30L744.05 608.25L746.37 609.19L748.70 610.14L751.02 611.08L753.35 612.03L755.67 612.98L758.00 613.92L760.32 614.87L762.65 615.82L764.97 616.78L767.29 617.73L769.61 618.68L771.93 619.64L774.25 620.60L776.57 621.56L778.89 622.52L781.21 623.49L783.52 624.46L785.84 625.43L788.15 626.41L790.46 627.39L792.77 628.37L795.08 629.36L797.39 630.35L799.69 631.34L801.99 632.34L804.29 633.34L806.59 634.35L808.89 635.37L811.18 636.38L813.48 637.41L815.77 638.43L818.06 639.47L820.34 640.51L822.62 641.55L824.90 642.60L827.18 643.66L829.45 644.72L831.72 645.79L833.99 646.87L836.26 647.95L838.52 649.04L840.78 650.14L843.03 651.24L845.29 652.34L847.54 653.45L849.79 654.56L852.04 655.67L854.29 656.78L856.54 657.90L858.79 659.01L861.04 660.12L863.29 661.23L865.55 662.34L867.80 663.44L870.06 664.55L872.31 665.64L874.58 666.73L876.84 667.81L879.11 668.89L881.38 669.96L883.65 671.02L885.93 672.07L888.22 673.11L890.51 674.14L892.80 675.16L895.10 676.16L897.41 677.15L899.72 678.13L902.04 679.09L904.37 680.04L906.70 680.97L909.04 681.87L911.40 682.72L913.80 683.46L916.24 684.06L918.71 684.47L921.22 684.65L923.72 684.58L926.23 684.43L928.74 684.37L931.25 684.42L933.75 684.58L936.25 684.82L938.74 685.14L941.23 685.50L943.70 685.91L946.18 686.34L948.65 686.77L951.12 687.21L953.59 687.65L956.07 688.06L958.55 688.43L961.04 688.77L963.53 689.05L966.03 689.27L968.54 689.40L971.05 689.46L973.56 689.45L976.07 689.38L978.58 689.25L981.08 689.08L983.58 688.86L986.08 688.60L988.57 688.32L991.06 688.02L993.55 687.69L996.04 687.36L998.53 687.03L1001.02 686.70L1003.51 686.38L1006.00 686.08L1008.49 685.79L1010.99 685.53L1013.49 685.28L1015.99 685.04L1018.49 684.83L1020.99 684.63L1023.49 684.44L1026.00 684.27L1028.50 684.11L1031.01 683.97L1033.52 683.84L1036.02 683.73L1038.53 683.62L1041.04 683.53L1043.55 683.45L1046.06 683.38L1048.57 683.31L1051.08 683.26L1053.59 683.22L1056.10 683.18L1058.61 683.15L1061.12 683.13L1063.63 683.12L1066.14 683.11L1068.65 683.11L1071.16 683.11L1073.67 683.12L1076.18 683.13L1078.69 683.14L1081.20 683.16L1083.71 683.18L1086.22 683.19L1088.73 683.22L1091.24 683.24L1093.75 683.26L1096.26 683.28L1098.77 683.30L1101.28 683.31L1103.79 683.33L1106.30 683.34L1108.81 683.35" stroke="#0f0" stroke-width="2.4" fill="none"/>
<path d="M345.99 871.42L346.58 873.86L347.15 876.31L347.70 878.76L348.23 881.21L348.75 883.67L349.26 886.13L349.76 888.59L350.25 891.05L350.73 893.52L351.21 895.98L351.69 898.45L352.17 900.91L352.66 903.38L353.14 905.84L353.63 908.30L354.13 910.76L354.64 913.22L355.16 915.68L355.70 918.13L356.25 920.58L356.82 923.03L357.41 925.47L358.01 927.91L358.65 930.34L359.30 932.76L359.99 935.18L360.70 937.58L361.45 939.98L362.23 942.37L363.04 944.75L363.89 947.11L364.78 949.46L365.71 951.79L366.69 954.10L367.71 956.40L368.77 958.67L369.88 960.93L371.02 963.16L372.21 965.37L373.44 967.56L374.71 969.73L376.01 971.88L377.35 974.01L378.72 976.11L380.13 978.19L381.57 980.25L383.04 982.28L384.54 984.29L386.07 986.28L387.63 988.25L389.22 990.20L390.83 992.13L392.47 994.03L394.13 995.91L395.81 997.77L397.52 999.61L399.25 1001.43L401.00 1003.23L402.77 1005.01L404.57 1006.77L406.38 1008.52L408.20 1010.24L410.05 1011.94L411.91 1013.62L413.79 1015.29L415.69 1016.94L417.60 1018.57L419.52 1020.18L421.46 1021.78L423.42 1023.35L425.39 1024.91L427.37 1026.45L429.37 1027.96L431.39 1029.46L433.43 1030.93L435.48 1032.38L437.55 1033.81L439.63 1035.21L441.73 1036.58L443.85 1037.93L445.98 1039.25L448.14 1040.55L450.30 1041.81L452.49 1043.05L454.69 1044.26L456.91 1045.43L459.15 1046.57L461.40 1047.68L463.67 1048.76L465.96 1049.80L468.26 1050.80L470.58 1051.77L472.91 1052.70L475.26 1053.59L477.62 1054.44L480.00 1055.25L482.39 1056.02L484.79 1056.76L487.20 1057.46L489.62 1058.13L492.04 1058.78L494.48 1059.41L496.91 1060.01L499.35 1060.61L501.80 1061.19L504.24 1061.77L506.69 1062.34L509.13 1062.92L511.57 1063.49L514.02 1064.08L516.45 1064.68L518.89 1065.30L521.32 1065.94L523.74 1066.60L526.16 1067.28L528.56 1068.00L530.96 1068.75L533.34 1069.54L535.71 1070.37L538.07 1071.24L540.41 1072.14L542.75 1073.07L545.07 1074.03L547.38 1075.02L549.68 1076.02L551.97 1077.05L554.25 1078.09L556.53 1079.15L558.80 1080.22L561.07 1081.30L563.34 1082.38L565.60 1083.47L567.86 1084.56L570.13 1085.65L572.39 1086.73L574.66 1087.81L576.93 1088.88L579.21 1089.94L581.49 1090.98L583.79 1092.01L586.09 1093.02L588.40 1094.00L590.71 1094.97L593.04 1095.91L595.37 1096.84L597.72 1097.74L600.07 1098.63L602.43 1099.49L604.79 1100.33L607.17 1101.15L609.55 1101.95L611.93 1102.73L614.33 1103.49L616.73 1104.22L619.14 1104.94L621.55 1105.63L623.97 1106.30L626.40 1106.95L628.83 1107.58L631.26 1108.19L633.71 1108.78L636.15 1109.34L638.61 1109.88L641.06 1110.40L643.52 1110.90L645.99 1111.38L648.46 1111.83L650.93 1112.26L653.41 1112.67L655.89 1113.06L658.38 1113.43L660.86 1113.77L663.35 1114.09L665.85 1114.40L668.34 1114.69L670.84 1114.96L673.34 1115.21L675.84 1115.45L678.34 1115.68L680.84 1115.89L683.34 1116.10L685.85 1116.29L688.35 1116.47L690.86 1116.64L693.36 1116.81L695.87 1116.97L698.37 1117.13L700.88 1117.28L703.39 1117.43L705.90 1117.57L708.40 1117.72L710.91 1117.86L713.42 1118.01L715.92 1118.15L718.43 1118.30L720.94 1118.45L723.44 1118.60L725.95 1118.74L728.46 1118.88L730.97 1119.01L733.48 1119.14L735.98 1119.27L738.49 1119.38L741.00 1119.48L743.51 1119.58L746.02 1119.66L748.53 1119.73L751.04 1119.78L753.55 1119.82L756.06 1119.85L758.58 1119.86L761.09 1119.85L763.60 1119.83L766.11 1119.78L768.62 1119.73L771.13 1119.65L773.64 1119.55L776.15 1119.44L778.66 1119.31L781.16 1119.15L783.67 1118.98L786.17 1118.78L788.67 1118.57L791.17 1118.33L793.67 1118.07L796.17 1117.79L798.66 1117.48L801.15 1117.15L803.63 1116.80L806.12 1116.42L808.60 1116.02L811.07 1115.60L813.54 1115.15L816.01 1114.67L818.47 1114.17L820.93 1113.66L823.38 1113.11L825.83 1112.55L828.27 1111.97L830.71 1111.37L833.14 1110.75L835.57 1110.11L837.99 1109.45L840.41 1108.78L842.83 1108.08L845.24 1107.38L847.64 1106.65L850.04 1105.91L852.44 1105.16L854.83 1104.39L857.21 1103.61L859.60 1102.81L861.97 1102.01L864.35 1101.19L866.72 1100.36L869.08 1099.52L871.45 1098.67L873.81 1097.81L876.16 1096.94L878.52 1096.06L880.87 1095.18L883.22 1094.30L885.57 1093.40L887.91 1092.51L890.26 1091.61L892.60 1090.71L894.94 1089.80L897.28 1088.90L899.63 1087.99L901.97 1087.08L904.31 1086.18L906.65 1085.27L909.00 1084.37L911.34 1083.47L913.69 1082.58L916.04 1081.69L918.39 1080.81L920.74 1079.93L923.10 1079.06L925.46 1078.19L927.82 1077.34L930.18 1076.49L932.55 1075.66L934.92 1074.83L937.30 1074.02L939.68 1073.22L942.06 1072.43L944.45 1071.66L946.84 1070.89L949.24 1070.14L951.64 1069.41L954.05 1068.68L956.45 1067.96L958.86 1067.26L961.28 1066.56L963.69 1065.88L966.11 1065.20L968.53 1064.53L970.95 1063.86L973.38 1063.21L975.80 1062.56L978.23 1061.91L980.66 1061.27L983.09 1060.64L985.52 1060.01L987.95 1059.38L990.38 1058.75L992.81 1058.13L995.25 1057.51L997.68 1056.89L1000.12 1056.27L1002.55 1055.66L1004.98 1055.04L1007.42 1054.42L1009.85 1053.80L1012.29 1053.19L1014.72 1052.57L1017.16 1051.96L1019.59 1051.34L1022.03 1050.73L1024.46 1050.12L1026.90 1049.51L1029.34 1048.91L1031.77 1048.30L1034.21 1047.70L1036.65 1047.10L1039.09 1046.51L1041.53 1045.91L1043.97 1045.32L1046.41 1044.73L1048.85 1044.15L1051.30 1043.56L1053.74 1042.98L1056.19 1042.41L1058.63 1041.84L1061.08 1041.27L1063.52 1040.71L1065.97 1040.15L1068.42 1039.60L1070.87 1039.05L1073.32 1038.50L1075.78 1037.96L1078.23 1037.43L1080.69 1036.90L1083.14 1036.37L1085.60 1035.85L1088.06 1035.34L1090.51 1034.82L1092.97 1034.31L1095.43 1033.81L1097.89 1033.31L1100.36 1032.81L1102.82 1032.31L1105.28 1031.81L1107.74 1031.32L1110.20 1030.82L1112.66 1030.33L1115.13 1029.84L1117.59 1029.34L1120.05 1028.85L1122.51 1028.36L1124.98 1027.86L1127.44 1027.36L1129.90 1026.87L1132.36 1026.37L1134.82 1025.86L1137.28 1025.36L1139.74 1024.85L1142.20 1024.33L1144.66 1023.82L1147.11 1023.30L1149.57 1022.77L1152.02 1022.24L1154.48 1021.71L1156.93 1021.16L1159.38 1020.62L1161.83 1020.06L1164.28 1019.50" stroke="#f00" stroke-width="2.4" fill="none"/>
<path d="M275.58 944.00L276.12 946.45L276.68 948.89L277.28 951.33L277.94 953.75L278.69 956.14L279.54 958.51L280.51 960.82L281.63 963.06L282.92 965.21L284.42 967.22L286.15 969.04L288.11 970.60L290.25 971.91L292.50 973.03L294.80 974.01L297.14 974.91L299.49 975.80L301.84 976.69L304.17 977.61L306.49 978.57L308.78 979.59L311.05 980.67L313.27 981.83L315.45 983.08L317.57 984.41L319.65 985.82L321.68 987.29L323.67 988.82L325.62 990.40L327.52 992.04L329.39 993.71L331.23 995.42L333.03 997.16L334.82 998.93L336.58 1000.71L338.32 1002.52L340.05 1004.33L341.77 1006.16L343.49 1007.99L345.20 1009.82L346.92 1011.65L348.65 1013.47L350.38 1015.28L352.13 1017.08L353.90 1018.86L355.69 1020.62L357.51 1022.35L359.36 1024.04L361.24 1025.70L363.16 1027.32L365.11 1028.89L367.11 1030.41L369.15 1031.87L371.22 1033.28L373.33 1034.64L375.47 1035.96L377.64 1037.22L379.83 1038.44L382.05 1039.61L384.29 1040.74L386.55 1041.83L388.83 1042.88L391.12 1043.89L393.43 1044.87L395.76 1045.82L398.09 1046.74L400.44 1047.62L402.80 1048.48L405.16 1049.31L407.54 1050.11L409.94 1050.86L412.34 1051.57L414.76 1052.24L417.20 1052.85L419.64 1053.40L422.10 1053.89L424.58 1054.31L427.06 1054.66L429.56 1054.93L432.06 1055.11L434.57 1055.20L437.08 1055.20L439.58 1055.09L442.08 1054.88L444.57 1054.58L447.05 1054.20L449.52 1053.75L451.98 1053.23L454.42 1052.67L456.85 1052.06L459.28 1051.42L461.70 1050.75L464.11 1050.07L466.53 1049.38L468.94 1048.69L471.35 1048.01L473.77 1047.34L476.20 1046.70L478.63 1046.09L481.08 1045.53L483.54 1045.04L486.02 1044.65L488.51 1044.42L491.02 1044.36L493.52 1044.52L496.00 1044.94L498.41 1045.63L500.73 1046.58L502.95 1047.74L505.09 1049.05L507.14 1050.50L509.10 1052.07L510.99 1053.72L512.81 1055.44L514.59 1057.21L516.32 1059.02L518.04 1060.85L519.75 1062.69L521.48 1064.51L523.23 1066.30L525.02 1068.06L526.86 1069.77L528.74 1071.43L530.65 1073.06L532.59 1074.65L534.55 1076.21L536.54 1077.74L538.55 1079.25L540.56 1080.74L542.59 1082.22L544.63 1083.68L546.70 1085.10L548.79 1086.49L550.91 1087.83L553.07 1089.10L555.28 1090.30L557.53 1091.41L559.83 1092.40L562.17 1093.29L564.56 1094.08L566.97 1094.77L569.40 1095.37L571.86 1095.90L574.32 1096.36L576.80 1096.76L579.28 1097.11L581.77 1097.43L584.27 1097.72L586.76 1097.98L589.26 1098.23L591.76 1098.46L594.26 1098.68L596.76 1098.87L599.26 1099.06L601.76 1099.22L604.27 1099.38L606.77 1099.51L609.28 1099.64L611.78 1099.75L614.29 1099.86L616.80 1099.95L619.31 1100.03L621.81 1100.10L624.32 1100.16L626.83 1100.21L629.34 1100.25L631.85 1100.29L634.36 1100.32L636.87 1100.35L639.38 1100.36L641.88 1100.38L644.39 1100.39L646.90 1100.40L649.41 1100.40L651.92 1100.40L654.43 1100.40L656.94 1100.40L659.45 1100.40L661.96 1100.40L664.47 1100.40L666.97 1100.40L669.48 1100.41L671.99 1100.42L674.50 1100.43L677.01 1100.44L679.52 1100.46L682.03 1100.49L684.54 1100.52L687.05 1100.56L689.55 1100.60L692.06 1100.66L694.57 1100.72L697.08 1100.79L699.59 1100.87L702.09 1100.97L704.60 1101.07L707.11 1101.19L709.61 1101.31L712.12 1101.46L714.62 1101.61L717.12 1101.78L719.63 1101.96L722.13 1102.16L724.63 1102.36L727.13 1102.58L729.63 1102.81L732.12 1103.05L734.62 1103.30L737.12 1103.55L739.61 1103.82L742.11 1104.09L744.60 1104.37L747.09 1104.65L749.59 1104.94L752.08 1105.24L754.57 1105.54L757.06 1105.84L759.55 1106.14L762.04 1106.45L764.53 1106.76L767.02 1107.07L769.51 1107.38L772.00 1107.69L774.49 1108.01L776.98 1108.31L779.47 1108.62L781.96 1108.92L784.45 1109.23L786.94 1109.52L789.43 1109.82L791.93 1110.10L794.42 1110.36L796.92 1110.59L799.42 1110.77L801.93 1110.90L804.44 1110.96L806.94 1110.93L809.45 1110.82L811.95 1110.61L814.44 1110.32L816.92 1109.95L819.39 1109.51L821.85 1109.01L824.30 1108.47L826.74 1107.87L829.17 1107.23L831.59 1106.57L834.00 1105.88L836.40 1105.17L838.81 1104.44L841.21 1103.71L843.61 1102.98L846.01 1102.26L848.41 1101.54L850.81 1100.82L853.22 1100.10L855.62 1099.38L858.02 1098.65L860.43 1097.93L862.83 1097.20L865.23 1096.47L867.62 1095.73L870.02 1094.98L872.41 1094.22L874.80 1093.45L877.18 1092.67L879.57 1091.88L881.94 1091.08L884.31 1090.26L886.68 1089.43L889.05 1088.59L891.41 1087.74L893.76 1086.88L896.12 1086.01L898.47 1085.13L900.82 1084.25L903.17 1083.37L905.51 1082.48L907.86 1081.59L910.20 1080.69L912.55 1079.80L914.89 1078.91L917.23 1078.01L919.58 1077.12L921.93 1076.24L924.28 1075.36L926.63 1074.48L928.98 1073.61L931.34 1072.75L933.70 1071.90L936.06 1071.05L938.43 1070.22L940.80 1069.40L943.17 1068.59L945.55 1067.80L947.94 1067.01L950.33 1066.24L952.72 1065.49L955.11 1064.74L957.51 1064.00L959.91 1063.28L962.32 1062.56L964.73 1061.86L967.14 1061.16L969.55 1060.48L971.96 1059.80L974.38 1059.13L976.80 1058.46L979.22 1057.81L981.65 1057.16L984.07 1056.52L986.50 1055.88L988.93 1055.25L991.36 1054.63L993.79 1054.01L996.22 1053.39L998.66 1052.78L1001.09 1052.17L1003.53 1051.57L1005.96 1050.97L1008.40 1050.37L1010.83 1049.77L1013.27 1049.17L1015.71 1048.57L1018.15 1047.98L1020.58 1047.38L1023.02 1046.79L1025.46 1046.19L1027.89 1045.59L1030.33 1045.00L1032.77 1044.40L1035.20 1043.80L1037.64 1043.20L1040.08 1042.61L1042.52 1042.01L1044.95 1041.42L1047.39 1040.83L1049.83 1040.25L1052.27 1039.66L1054.71 1039.09L1057.16 1038.52L1059.60 1037.95L1062.05 1037.39L1064.50 1036.84L1066.94 1036.29L1069.40 1035.76L1071.85 1035.23L1074.30 1034.71L1076.76 1034.20L1079.22 1033.70L1081.68 1033.21L1084.14 1032.73L1086.61 1032.27L1089.08 1031.82L1091.55 1031.38L1094.02 1030.95L1096.49 1030.54L1098.97 1030.14L1101.45 1029.76L1103.93 1029.39L1106.42 1029.04L1108.90 1028.71" stroke="#00f" stroke-width="2.4" fill="none"/>
<path d="M275.70 991.06L277.02 993.20L278.37 995.32L279.76 997.41L281.19 999.48L282.66 1001.52L284.16 1003.53L285.70 1005.52L287.28 1007.47L288.89 1009.40L290.53 1011.30L292.21 1013.17L293.92 1015.01L295.66 1016.82L297.44 1018.59L299.26 1020.34L301.10 1022.04L302.98 1023.71L304.89 1025.34L306.84 1026.93L308.81 1028.48L310.83 1029.99L312.87 1031.45L314.94 1032.87L317.05 1034.24L319.19 1035.55L321.36 1036.82L323.56 1038.03L325.79 1039.18L328.06 1040.28L330.35 1041.31L332.67 1042.27L335.02 1043.17L337.39 1044.00L339.78 1044.76L342.20 1045.46L344.63 1046.10L347.07 1046.69L349.52 1047.23L351.98 1047.73L354.45 1048.20L356.93 1048.64L359.41 1049.05L361.89 1049.45L364.37 1049.83L366.85 1050.20L369.34 1050.57L371.83 1050.92L374.32 1051.25L376.81 1051.56L379.31 1051.84L381.81 1052.08L384.32 1052.30L386.82 1052.47L389.33 1052.59L391.84 1052.66L394.36 1052.68L396.87 1052.63L399.38 1052.51L401.88 1052.31L404.38 1052.03L406.87 1051.67L409.33 1051.20L411.78 1050.63L414.20 1049.95L416.59 1049.16L418.93 1048.25L421.22 1047.22L423.45 1046.07L425.63 1044.81L427.75 1043.47L429.83 1042.06L431.87 1040.59L433.88 1039.08L435.86 1037.53L437.82 1035.96L439.78 1034.38L441.73 1032.80L443.69 1031.23L445.66 1029.67L447.65 1028.14L449.68 1026.66L451.74 1025.22L453.85 1023.85L456.00 1022.56L458.24 1021.41L460.66 1020.80L463.15 1021.08L465.52 1021.91L467.75 1023.06L469.85 1024.44L471.79 1026.03L473.56 1027.81L475.15 1029.76L476.57 1031.83L477.88 1033.98L479.10 1036.17L480.28 1038.39L481.44 1040.62L482.60 1042.85L483.75 1045.08L484.91 1047.31L486.08 1049.53L487.27 1051.75L488.48 1053.95L489.71 1056.14L490.98 1058.31L492.30 1060.45L493.65 1062.56L495.06 1064.65L496.53 1066.68L498.06 1068.68L499.67 1070.61L501.35 1072.47L503.12 1074.26L504.97 1075.95L506.92 1077.54L508.97 1079.00L511.09 1080.34L513.28 1081.57L515.54 1082.68L517.84 1083.68L520.19 1084.58L522.57 1085.38L524.98 1086.09L527.41 1086.72L529.86 1087.28L532.33 1087.77L534.80 1088.19L537.29 1088.56L539.78 1088.89L542.28 1089.17L544.78 1089.41L547.28 1089.62L549.79 1089.81L552.29 1089.97L554.80 1090.12L557.31 1090.24L559.82 1090.34L562.33 1090.43L564.85 1090.49L567.36 1090.54L569.87 1090.57L572.38 1090.58L574.90 1090.58L577.41 1090.57L579.92 1090.54L582.43 1090.50L584.95 1090.44L587.46 1090.38L589.97 1090.30L592.48 1090.22L594.99 1090.12L597.50 1090.02L600.01 1089.91L602.52 1089.79L605.03 1089.67L607.54 1089.54L610.05 1089.41L612.56 1089.28L615.07 1089.15L617.58 1089.01L620.09 1088.87L622.60 1088.74L625.11 1088.60L627.62 1088.47L630.13 1088.34L632.63 1088.21L635.14 1088.09L637.65 1087.98L640.16 1087.87L642.68 1087.77L645.19 1087.67L647.70 1087.58L650.21 1087.50L652.72 1087.42L655.23 1087.35L657.74 1087.28L660.26 1087.23L662.77 1087.18L665.28 1087.13L667.79 1087.10L670.31 1087.06L672.82 1087.04L675.33 1087.02L677.84 1087.01L680.36 1087.01L682.87 1087.01L685.38 1087.02L687.89 1087.04L690.41 1087.06L692.92 1087.09L695.43 1087.13L697.94 1087.17L700.46 1087.22L702.97 1087.28L705.48 1087.34L707.99 1087.41L710.50 1087.49L713.02 1087.58L715.53 1087.67L718.04 1087.77L720.55 1087.88L723.06 1087.99L725.57 1088.11L728.08 1088.24L730.59 1088.38L733.10 1088.52L735.60 1088.67L738.11 1088.83L740.62 1088.99L743.13 1089.17L745.63 1089.35L748.14 1089.53L750.64 1089.73L753.15 1089.93L755.65 1090.14L758.15 1090.36L760.66 1090.58L763.16 1090.82L765.66 1091.06L768.16 1091.31L770.66 1091.56L773.16 1091.83L775.66 1092.10L778.15 1092.38L780.65 1092.67L783.15 1092.96L785.64 1093.27L788.13 1093.58L790.63 1093.90L793.12 1094.23L795.61 1094.56L798.10 1094.91L800.58 1095.27L803.07 1095.63L805.55 1096.01L808.04 1096.39L810.52 1096.79L813.00 1097.20L815.47 1097.62L817.95 1098.05L820.42 1098.50L822.89 1098.95L825.36 1099.42L827.83 1099.90L830.29 1100.40L832.75 1100.91L835.21 1101.43L837.66 1101.97L840.11 1102.52L842.56 1103.09L845.01 1103.67L847.45 1104.27L849.89 1104.87L852.33 1105.45L854.78 1106.02L857.24 1106.54L859.71 1107.01L862.19 1107.41L864.68 1107.73L867.18 1107.95L869.69 1108.06L872.21 1108.05L874.71 1107.91L877.21 1107.64L879.69 1107.23L882.15 1106.70L884.57 1106.02L886.94 1105.20L889.26 1104.23L891.50 1103.10L893.66 1101.82L895.73 1100.40L897.71 1098.85L899.60 1097.19L901.40 1095.44L903.12 1093.61L904.77 1091.71L906.34 1089.75L907.85 1087.74L909.31 1085.69L910.73 1083.62L912.14 1081.54L913.57 1079.48L915.06 1077.46L916.64 1075.50L918.35 1073.66L920.22 1071.98L922.29 1070.57L924.57 1069.51L926.98 1068.84L929.47 1068.50L931.99 1068.45L934.49 1068.61L936.98 1068.94L939.45 1069.40L941.91 1069.94L944.35 1070.52L946.81 1071.05L949.28 1071.48L951.78 1071.71L954.29 1071.64L956.76 1071.16L959.09 1070.24L961.28 1069.01L963.36 1067.61L965.38 1066.11L967.38 1064.58L969.40 1063.09L971.50 1061.71L973.70 1060.50L976.00 1059.49L978.37 1058.66L980.79 1057.98L983.24 1057.41L985.70 1056.93L988.18 1056.50L990.66 1056.08L993.13 1055.64L995.60 1055.16L998.06 1054.65L1000.51 1054.11L1002.96 1053.55L1005.41 1052.97L1007.85 1052.37L1010.28 1051.76L1012.72 1051.14L1015.15 1050.51L1017.59 1049.89L1020.02 1049.27L1022.46 1048.65L1024.90 1048.05L1027.34 1047.46L1029.78 1046.89L1032.24 1046.33L1034.69 1045.79L1037.15 1045.26L1039.60 1044.74L1042.07 1044.24L1044.53 1043.75L1047.00 1043.27L1049.47 1042.80L1051.94 1042.35L1054.41 1041.90L1056.88 1041.45L1059.36 1041.02L1061.83 1040.59L1064.31 1040.17L1066.79 1039.75L1069.27 1039.34L1071.75 1038.92L1074.22 1038.52L1076.70 1038.11L1079.18 1037.70L1081.66 1037.30L1084.14 1036.89L1086.62 1036.48L1089.10 1036.07L1091.58 1035.65L1094.06 1035.23L1096.53 1034.81L1099.01 1034.38L1101.48 1033.95L1103.96 1033.50L1106.43 1033.05L1108.90 1032.59" stroke="#0f0" stroke-width="2.4" fill="none"/>
<path d="M330.94 1425.01L333.43 1425.38L335.91 1425.71L338.40 1426.01L340.89 1426.29L343.39 1426.54L345.89 1426.76L348.39 1426.96L350.89 1427.13L353.39 1427.28L355.90 1427.40L358.40 1427.49L360.91 1427.56L363.42 1427.61L365.92 1427.64L368.43 1427.64L370.94 1427.62L373.45 1427.57L375.95 1427.51L378.46 1427.43L380.97 1427.32L383.47 1427.20L385.97 1427.06L388.48 1426.90L390.98 1426.72L393.48 1426.53L395.98 1426.32L398.47 1426.09L400.97 1425.85L403.46 1425.59L405.96 1425.32L408.45 1425.03L410.94 1424.74L413.43 1424.43L415.91 1424.11L418.40 1423.77L420.88 1423.43L423.37 1423.08L425.85 1422.72L428.33 1422.35L430.81 1421.97L433.29 1421.58L435.76 1421.18L438.24 1420.78L440.71 1420.38L443.19 1419.96L445.66 1419.55L448.13 1419.13L450.60 1418.70L453.07 1418.27L455.54 1417.84L458.01 1417.41L460.48 1416.98L462.96 1416.56L465.43 1416.14L467.90 1415.73L470.38 1415.34L472.86 1414.95L475.34 1414.59L477.82 1414.24L480.31 1413.91L482.80 1413.60L485.29 1413.32L487.78 1413.07L490.28 1412.85L492.78 1412.66L495.29 1412.51L497.79 1412.40L500.30 1412.33L502.80 1412.30L505.31 1412.31L507.82 1412.37L510.32 1412.48L512.83 1412.62L515.33 1412.80L517.83 1413.02L520.32 1413.27L522.81 1413.55L525.30 1413.86L527.79 1414.20L530.27 1414.56L532.75 1414.94L535.22 1415.34L537.70 1415.76L540.17 1416.20L542.63 1416.65L545.10 1417.11L547.56 1417.58L550.02 1418.06L552.48 1418.54L554.94 1419.03L557.40 1419.52L559.86 1420.01L562.32 1420.51L564.78 1421.01L567.23 1421.50L569.69 1422.00L572.15 1422.50L574.61 1422.99L577.07 1423.48L579.53 1423.96L581.99 1424.45L584.45 1424.92L586.92 1425.39L589.38 1425.85L591.85 1426.30L594.32 1426.75L596.79 1427.18L599.26 1427.60L601.73 1428.01L604.21 1428.41L606.69 1428.80L609.17 1429.17L611.65 1429.52L614.13 1429.86L616.62 1430.18L619.11 1430.49L621.60 1430.78L624.09 1431.07L626.58 1431.33L629.08 1431.59L631.58 1431.83L634.07 1432.06L636.57 1432.28L639.07 1432.48L641.57 1432.68L644.07 1432.87L646.57 1433.05L649.07 1433.22L651.58 1433.38L654.08 1433.53L656.58 1433.68L659.09 1433.82L661.59 1433.95L664.10 1434.08L666.60 1434.20L669.11 1434.32L671.61 1434.44L674.12 1434.55L676.62 1434.65L679.13 1434.76L681.63 1434.86L684.14 1434.96L686.64 1435.05L689.15 1435.14L691.66 1435.23L694.16 1435.32L696.67 1435.40L699.18 1435.48L701.68 1435.56L704.19 1435.63L706.69 1435.71L709.20 1435.77L711.71 1435.84L714.22 1435.91L716.72 1435.97L719.23 1436.03L721.74 1436.09L724.24 1436.14L726.75 1436.20L729.26 1436.25L731.77 1436.30L734.27 1436.35L736.78 1436.40L739.29 1436.44L741.79 1436.48L744.30 1436.53L746.81 1436.57L749.32 1436.60L751.82 1436.64L754.33 1436.68L756.84 1436.71L759.35 1436.75L761.85 1436.78L764.36 1436.81L766.87 1436.84L769.38 1436.88L771.88 1436.90L774.39 1436.93L776.90 1436.96L779.41 1436.99L781.91 1437.02L784.42 1437.04L786.93 1437.07L789.44 1437.10L791.94 1437.12L794.45 1437.15L796.96 1437.17L799.47 1437.20L801.97 1437.22L804.48 1437.25L806.99 1437.27L809.50 1437.29L812.01 1437.31L814.51 1437.33L817.02 1437.35L819.53 1437.37L822.04 1437.38L824.54 1437.39L827.05 1437.40L829.56 1437.41L832.07 1437.41L834.57 1437.41L837.08 1437.41L839.59 1437.40L842.10 1437.39L844.61 1437.38L847.11 1437.36L849.62 1437.34L852.13 1437.31L854.64 1437.28L857.14 1437.24L859.65 1437.20L862.16 1437.15L864.67 1437.10L867.17 1437.04L869.68 1436.98L872.19 1436.91L874.69 1436.83L877.20 1436.75L879.70 1436.66L882.21 1436.57L884.72 1436.46L887.22 1436.35L889.73 1436.24L892.23 1436.11L894.74 1435.98L897.24 1435.84L899.74 1435.69L902.25 1435.53L904.75 1435.37L907.25 1435.19L909.75 1435.01L912.25 1434.82L914.75 1434.62L917.25 1434.41L919.75 1434.19L922.24 1433.96L924.74 1433.72L927.24 1433.47L929.73 1433.21L932.22 1432.94L934.72 1432.65L937.21 1432.36L939.69 1432.05L942.18 1431.74L944.67 1431.41L947.15 1431.06L949.63 1430.70L952.11 1430.33L954.59 1429.95L957.07 1429.55L959.54 1429.14L962.01 1428.71L964.48 1428.27L966.95 1427.81L969.41 1427.33L971.87 1426.84L974.32 1426.33L976.78 1425.81L979.22 1425.27L981.67 1424.71L984.11 1424.13L986.54 1423.53L988.98 1422.92L991.40 1422.28L993.82 1421.63L996.24 1420.95L998.65 1420.26L1001.05 1419.55L1003.45 1418.81L1005.84 1418.05L1008.22 1417.28L1010.60 1416.48L1012.97 1415.65L1015.33 1414.81L1017.68 1413.94L1020.03 1413.05L1022.36 1412.14L1024.69 1411.20L1027.01 1410.24L1029.31 1409.25L1031.61 1408.24L1033.89 1407.21L1036.16 1406.15L1038.42 1405.06L1040.67 1403.96L1042.91 1402.82L1045.13 1401.66L1047.35 1400.48L1049.54 1399.27L1051.73 1398.04L1053.90 1396.79L1056.05 1395.51L1058.20 1394.20L1060.32 1392.87L1062.44 1391.52L1064.53 1390.14L1066.61 1388.74L1068.68 1387.32L1070.73 1385.87L1072.76 1384.40L1074.77 1382.91L1076.77 1381.39L1078.75 1379.86L1080.71 1378.29L1082.65 1376.71L1084.58 1375.10L1086.48 1373.47L1088.37 1371.82L1090.24 1370.14L1092.08 1368.45L1093.91 1366.73L1095.72 1364.99L1097.50 1363.23L1099.26 1361.44L1101.01 1359.64L1102.73 1357.82L1104.43 1355.97L1106.10 1354.11L1107.76 1352.22L1109.39 1350.32L1110.99 1348.39L1112.58 1346.45L1114.15 1344.49L1115.71 1342.53L1117.27 1340.57L1118.84 1338.61L1120.43 1336.67L1122.04 1334.75L1123.68 1332.85L1125.37 1331.00L1127.10 1329.18L1128.89 1327.43L1130.75 1325.74L1132.68 1324.14L1134.68 1322.64L1136.77 1321.24L1138.93 1319.98L1141.18 1318.86L1143.49 1317.90L1145.87 1317.12L1148.32 1316.55L1150.80 1316.25L1153.31 1316.24L1155.79 1316.58L1158.20 1317.27L1160.48 1318.30L1162.60 1319.65L1164.52 1321.25" stroke="#f00" stroke-width="2.4" fill="none"/>
<path d="M275.80 1421.13L278.31 1421.03L280.81 1420.96L283.32 1420.91L285.83 1420.87L288.33 1420.84L290.84 1420.83L293.35 1420.82L295.86 1420.81L298.37 1420.81L300.87 1420.81L303.38 1420.80L305.89 1420.79L308.40 1420.77L310.90 1420.74L313.41 1420.70L315.92 1420.64L318.42 1420.56L320.93 1420.47L323.43 1420.35L325.94 1420.20L328.44 1420.02L330.94 1419.81L333.43 1419.57L335.93 1419.30L338.41 1418.98L340.89 1418.62L343.37 1418.22L345.84 1417.77L348.30 1417.29L350.75 1416.77L353.20 1416.22L355.64 1415.64L358.07 1415.03L360.50 1414.40L362.92 1413.74L365.33 1413.07L367.74 1412.38L370.15 1411.68L372.56 1410.97L374.96 1410.25L377.36 1409.53L379.76 1408.81L382.16 1408.08L384.56 1407.36L386.97 1406.65L389.37 1405.94L391.78 1405.25L394.20 1404.57L396.62 1403.90L399.04 1403.26L401.47 1402.64L403.90 1402.05L406.35 1401.48L408.80 1400.94L411.25 1400.44L413.72 1399.97L416.19 1399.54L418.66 1399.15L421.15 1398.80L423.64 1398.49L426.13 1398.23L428.63 1398.03L431.13 1397.87L433.64 1397.77L436.14 1397.73L438.65 1397.75L441.16 1397.84L443.66 1397.99L446.16 1398.20L448.65 1398.49L451.13 1398.85L453.60 1399.28L456.06 1399.77L458.51 1400.33L460.94 1400.93L463.36 1401.58L465.78 1402.25L468.19 1402.95L470.59 1403.66L473.00 1404.37L475.40 1405.08L477.81 1405.79L480.22 1406.48L482.63 1407.16L485.05 1407.83L487.47 1408.47L489.90 1409.08L492.34 1409.67L494.79 1410.22L497.24 1410.74L499.70 1411.23L502.17 1411.69L504.64 1412.12L507.11 1412.53L509.59 1412.93L512.06 1413.30L514.55 1413.67L517.03 1414.02L519.51 1414.37L522.00 1414.71L524.48 1415.05L526.96 1415.39L529.45 1415.74L531.93 1416.10L534.41 1416.46L536.89 1416.83L539.37 1417.21L541.85 1417.60L544.32 1418.00L546.80 1418.40L549.27 1418.81L551.74 1419.23L554.22 1419.65L556.69 1420.07L559.16 1420.50L561.63 1420.93L564.10 1421.36L566.57 1421.79L569.04 1422.21L571.51 1422.64L573.99 1423.05L576.46 1423.46L578.94 1423.86L581.41 1424.25L583.89 1424.63L586.37 1424.99L588.86 1425.34L591.34 1425.68L593.83 1425.99L596.32 1426.29L598.81 1426.57L601.30 1426.83L603.80 1427.06L606.30 1427.27L608.80 1427.45L611.30 1427.61L613.81 1427.73L616.31 1427.83L618.82 1427.90L621.33 1427.95L623.84 1427.97L626.34 1427.98L628.85 1427.97L631.36 1427.94L633.87 1427.89L636.37 1427.83L638.88 1427.76L641.39 1427.68L643.89 1427.59L646.40 1427.50L648.90 1427.40L651.41 1427.30L653.91 1427.19L656.42 1427.09L658.92 1426.99L661.43 1426.89L663.94 1426.80L666.44 1426.72L668.95 1426.64L671.46 1426.58L673.96 1426.53L676.47 1426.49L678.98 1426.46L681.49 1426.45L683.99 1426.45L686.50 1426.45L689.01 1426.47L691.52 1426.50L694.02 1426.54L696.53 1426.58L699.04 1426.64L701.54 1426.70L704.05 1426.77L706.56 1426.84L709.06 1426.92L711.57 1427.01L714.07 1427.11L716.58 1427.21L719.09 1427.31L721.59 1427.41L724.10 1427.52L726.60 1427.63L729.11 1427.75L731.61 1427.86L734.12 1427.97L736.62 1428.09L739.13 1428.20L741.63 1428.31L744.14 1428.42L746.64 1428.52L749.15 1428.62L751.65 1428.72L754.16 1428.81L756.67 1428.90L759.17 1428.98L761.68 1429.05L764.19 1429.11L766.69 1429.17L769.20 1429.22L771.71 1429.25L774.21 1429.28L776.72 1429.30L779.23 1429.30L781.74 1429.30L784.25 1429.29L786.75 1429.27L789.26 1429.24L791.77 1429.20L794.27 1429.16L796.78 1429.11L799.29 1429.05L801.80 1428.99L804.30 1428.93L806.81 1428.86L809.32 1428.78L811.82 1428.71L814.33 1428.63L816.83 1428.55L819.34 1428.46L821.85 1428.38L824.35 1428.29L826.86 1428.21L829.37 1428.13L831.87 1428.04L834.38 1427.96L836.88 1427.88L839.39 1427.81L841.90 1427.73L844.40 1427.66L846.91 1427.60L849.42 1427.54L851.92 1427.48L854.43 1427.42L856.94 1427.37L859.45 1427.33L861.95 1427.29L864.46 1427.26L866.97 1427.23L869.48 1427.20L871.98 1427.18L874.49 1427.17L877.00 1427.16L879.51 1427.16L882.01 1427.17L884.52 1427.18L887.03 1427.20L889.54 1427.22L892.04 1427.25L894.55 1427.29L897.06 1427.34L899.56 1427.39L902.07 1427.45L904.58 1427.52L907.08 1427.59L909.59 1427.67L912.10 1427.74L914.60 1427.82L917.11 1427.88L919.62 1427.95L922.12 1428.00L924.63 1428.05L927.14 1428.08L929.65 1428.09L932.15 1428.09L934.66 1428.07L937.17 1428.02L939.68 1427.95L942.18 1427.85L944.69 1427.73L947.19 1427.58L949.69 1427.39L952.19 1427.19L954.68 1426.95L957.18 1426.68L959.67 1426.39L962.16 1426.08L964.64 1425.73L967.12 1425.36L969.60 1424.97L972.07 1424.55L974.54 1424.11L977.00 1423.64L979.46 1423.15L981.91 1422.63L984.36 1422.09L986.81 1421.53L989.25 1420.95L991.68 1420.35L994.11 1419.72L996.53 1419.07L998.95 1418.40L1001.36 1417.71L1003.76 1417.01L1006.16 1416.28L1008.56 1415.53L1010.94 1414.76L1013.33 1413.98L1015.70 1413.17L1018.07 1412.35L1020.43 1411.51L1022.79 1410.65L1025.14 1409.78L1027.48 1408.88L1029.82 1407.98L1032.15 1407.05L1034.47 1406.11L1036.79 1405.16L1039.11 1404.19L1041.41 1403.20L1043.71 1402.21L1046.01 1401.20L1048.31 1400.19L1050.60 1399.17L1052.88 1398.14L1055.17 1397.11L1057.45 1396.07L1059.73 1395.02L1062.01 1393.98L1064.29 1392.94L1066.57 1391.89L1068.85 1390.85L1071.13 1389.81L1073.41 1388.77L1075.70 1387.74L1077.99 1386.72L1080.28 1385.70L1082.58 1384.69L1084.88 1383.69L1087.18 1382.70L1089.49 1381.73L1091.81 1380.76L1094.13 1379.82L1096.46 1378.89L1098.79 1377.97L1101.13 1377.08L1103.48 1376.20L1105.84 1375.35L1108.21 1374.51" stroke="#00f" stroke-width="2.4" fill="none"/>
<path d="M275.74 1419.35L278.24 1419.10L280.73 1418.83L283.22 1418.54L285.71 1418.23L288.20 1417.90L290.68 1417.55L293.16 1417.17L295.63 1416.76L298.10 1416.33L300.57 1415.87L303.03 1415.39L305.48 1414.87L307.93 1414.33L310.37 1413.76L312.80 1413.16L315.23 1412.52L317.65 1411.86L320.06 1411.17L322.46 1410.45L324.85 1409.69L327.23 1408.91L329.60 1408.09L331.96 1407.25L334.32 1406.38L336.66 1405.49L339.00 1404.59L341.34 1403.68L343.67 1402.77L346.01 1401.87L348.36 1400.98L350.71 1400.11L353.07 1399.26L355.44 1398.45L357.83 1397.67L360.22 1396.94L362.64 1396.27L365.07 1395.65L367.52 1395.11L369.99 1394.66L372.47 1394.29L374.96 1394.03L377.46 1393.87L379.97 1393.84L382.47 1393.94L384.97 1394.17L387.45 1394.51L389.92 1394.94L392.38 1395.45L394.82 1396.01L397.25 1396.62L399.68 1397.26L402.10 1397.92L404.52 1398.58L406.94 1399.22L409.37 1399.84L411.81 1400.42L414.26 1400.95L416.72 1401.42L419.20 1401.85L421.67 1402.23L424.16 1402.56L426.65 1402.86L429.14 1403.12L431.64 1403.36L434.14 1403.57L436.64 1403.75L439.14 1403.92L441.64 1404.08L444.15 1404.23L446.65 1404.38L449.15 1404.53L451.65 1404.69L454.16 1404.85L456.66 1405.03L459.16 1405.23L461.65 1405.45L464.15 1405.70L466.64 1405.98L469.13 1406.28L471.62 1406.61L474.10 1406.97L476.58 1407.35L479.05 1407.75L481.52 1408.17L483.99 1408.61L486.46 1409.07L488.92 1409.54L491.38 1410.03L493.84 1410.53L496.29 1411.04L498.74 1411.57L501.19 1412.10L503.64 1412.64L506.09 1413.18L508.54 1413.73L510.98 1414.28L513.43 1414.84L515.87 1415.39L518.32 1415.94L520.77 1416.49L523.21 1417.04L525.66 1417.58L528.11 1418.12L530.56 1418.65L533.01 1419.17L535.47 1419.67L537.93 1420.17L540.39 1420.65L542.85 1421.12L545.32 1421.57L547.79 1422.01L550.26 1422.42L552.74 1422.82L555.22 1423.19L557.70 1423.54L560.19 1423.87L562.67 1424.18L565.16 1424.47L567.66 1424.74L570.15 1424.98L572.65 1425.21L575.15 1425.41L577.65 1425.59L580.15 1425.74L582.66 1425.88L585.16 1425.99L587.67 1426.07L590.18 1426.14L592.68 1426.18L595.19 1426.20L597.70 1426.19L600.20 1426.16L602.71 1426.11L605.22 1426.03L607.72 1425.93L610.23 1425.80L612.73 1425.65L615.23 1425.48L617.73 1425.28L620.23 1425.07L622.73 1424.84L625.22 1424.60L627.72 1424.35L630.21 1424.08L632.70 1423.81L635.20 1423.54L637.69 1423.27L640.18 1422.99L642.67 1422.72L645.17 1422.45L647.66 1422.19L650.16 1421.94L652.65 1421.70L655.15 1421.48L657.65 1421.27L660.15 1421.08L662.65 1420.91L665.15 1420.76L667.66 1420.64L670.16 1420.55L672.67 1420.49L675.18 1420.46L677.69 1420.46L680.19 1420.49L682.70 1420.55L685.21 1420.62L687.71 1420.73L690.22 1420.85L692.72 1420.99L695.22 1421.14L697.72 1421.31L700.22 1421.49L702.72 1421.69L705.22 1421.89L707.72 1422.10L710.22 1422.31L712.72 1422.53L715.22 1422.74L717.72 1422.96L720.21 1423.17L722.71 1423.38L725.21 1423.58L727.71 1423.78L730.21 1423.96L732.71 1424.13L735.22 1424.29L737.72 1424.43L740.22 1424.56L742.73 1424.68L745.23 1424.78L747.74 1424.87L750.25 1424.95L752.75 1425.02L755.26 1425.07L757.77 1425.12L760.27 1425.15L762.78 1425.18L765.29 1425.19L767.80 1425.20L770.30 1425.19L772.81 1425.18L775.32 1425.16L777.83 1425.13L780.33 1425.09L782.84 1425.05L785.35 1425.00L787.85 1424.94L790.36 1424.87L792.87 1424.81L795.37 1424.73L797.88 1424.65L800.39 1424.57L802.89 1424.48L805.40 1424.39L807.90 1424.29L810.41 1424.19L812.91 1424.09L815.42 1423.98L817.92 1423.87L820.43 1423.76L822.93 1423.64L825.44 1423.53L827.94 1423.41L830.45 1423.29L832.95 1423.17L835.46 1423.05L837.96 1422.93L840.47 1422.81L842.97 1422.68L845.48 1422.56L847.98 1422.44L850.48 1422.32L852.99 1422.20L855.49 1422.09L858.00 1421.97L860.50 1421.86L863.01 1421.74L865.51 1421.63L868.02 1421.53L870.52 1421.42L873.03 1421.33L875.54 1421.23L878.04 1421.14L880.55 1421.05L883.05 1420.96L885.56 1420.89L888.07 1420.81L890.57 1420.74L893.08 1420.68L895.59 1420.62L898.09 1420.57L900.60 1420.53L903.11 1420.49L905.61 1420.46L908.12 1420.43L910.63 1420.42L913.14 1420.41L915.64 1420.41L918.15 1420.42L920.66 1420.44L923.17 1420.46L925.67 1420.50L928.18 1420.54L930.69 1420.59L933.19 1420.65L935.70 1420.72L938.21 1420.80L940.71 1420.89L943.22 1420.98L945.72 1421.09L948.23 1421.20L950.73 1421.32L953.24 1421.44L955.74 1421.58L958.25 1421.72L960.75 1421.87L963.25 1422.02L965.75 1422.19L968.25 1422.36L970.76 1422.54L973.26 1422.72L975.76 1422.91L978.26 1423.11L980.76 1423.32L983.25 1423.53L985.75 1423.74L988.25 1423.93L990.76 1424.08L993.26 1424.17L995.77 1424.17L998.27 1424.07L1000.77 1423.84L1003.25 1423.47L1005.71 1422.98L1008.15 1422.40L1010.57 1421.75L1012.97 1421.03L1015.37 1420.29L1017.75 1419.51L1020.14 1418.73L1022.51 1417.94L1024.89 1417.14L1027.26 1416.33L1029.63 1415.51L1032.00 1414.68L1034.37 1413.85L1036.73 1413.02L1039.09 1412.18L1041.45 1411.33L1043.81 1410.49L1046.17 1409.64L1048.53 1408.79L1050.90 1407.95L1053.26 1407.10L1055.62 1406.26L1057.98 1405.42L1060.34 1404.58L1062.71 1403.75L1065.08 1402.93L1067.45 1402.11L1069.82 1401.30L1072.20 1400.50L1074.58 1399.71L1076.96 1398.93L1079.35 1398.16L1081.74 1397.40L1084.13 1396.66L1086.53 1395.93L1088.93 1395.21L1091.34 1394.52L1093.76 1393.84L1096.18 1393.18L1098.60 1392.53L1101.03 1391.91L1103.46 1391.31L1105.90 1390.73L1108.35 1390.18" stroke="#0f0" stroke-width="2.4" fill="none"/>
<path d="M124.3 606.4H1359.1" stroke="#000" stroke-opacity="0.62" stroke-width="1.15" fill="none"/>
<path d="M124.3 1032.4H1359.1" stroke="#000" stroke-opacity="0.62" stroke-width="1.15" fill="none"/>
<path d="M124.3 1420.9H1359.1" stroke="#000" stroke-opacity="0.62" stroke-width="1.15" fill="none"/>
<rect x="124.3" y="19.3" width="1234.80" height="322.80" fill="none" stroke="#000" stroke-width="2.5"/>
<path d="M278.65 342.1v-14.8M278.65 19.3v14.8M433.00 342.1v-14.8M433.00 19.3v14.8M587.35 342.1v-14.8M587.35 19.3v14.8M741.70 342.1v-14.8M741.70 19.3v14.8M896.05 342.1v-14.8M896.05 19.3v14.8M1050.40 342.1v-14.8M1050.40 19.3v14.8M1204.75 342.1v-14.8M1204.75 19.3v14.8" stroke="#000" stroke-width="2.5" fill="none"/>
<rect x="124.3" y="445.1" width="1234.80" height="323.10" fill="none" stroke="#000" stroke-width="2.5"/>
<path d="M278.65 768.2v-14.8M278.65 445.1v14.8M433.00 768.2v-14.8M433.00 445.1v14.8M587.35 768.2v-14.8M587.35 445.1v14.8M741.70 768.2v-14.8M741.70 445.1v14.8M896.05 768.2v-14.8M896.05 445.1v14.8M1050.40 768.2v-14.8M1050.40 445.1v14.8M1204.75 768.2v-14.8M1204.75 445.1v14.8" stroke="#000" stroke-width="2.5" fill="none"/>
<rect x="124.3" y="871.1" width="1234.80" height="322.80" fill="none" stroke="#000" stroke-width="2.5"/>
<path d="M278.65 1193.9v-14.8M278.65 871.1v14.8M433.00 1193.9v-14.8M433.00 871.1v14.8M587.35 1193.9v-14.8M587.35 871.1v14.8M741.70 1193.9v-14.8M741.70 871.1v14.8M896.05 1193.9v-14.8M896.05 871.1v14.8M1050.40 1193.9v-14.8M1050.40 871.1v14.8M1204.75 1193.9v-14.8M1204.75 871.1v14.8" stroke="#000" stroke-width="2.5" fill="none"/>
<rect x="124.3" y="1297.2" width="1234.80" height="247.40" fill="none" stroke="#000" stroke-width="2.5"/>
<path d="M278.65 1544.6v-14.8M278.65 1297.2v14.8M433.00 1544.6v-14.8M433.00 1297.2v14.8M587.35 1544.6v-14.8M587.35 1297.2v14.8M741.70 1544.6v-14.8M741.70 1297.2v14.8M896.05 1544.6v-14.8M896.05 1297.2v14.8M1050.40 1544.6v-14.8M1050.40 1297.2v14.8M1204.75 1544.6v-14.8M1204.75 1297.2v14.8" stroke="#000" stroke-width="2.5" fill="none"/>
<path d="M124.3 207.50h13.6M1359.1 207.50h-13.6M124.3 72.90h13.6M1359.1 72.90h-13.6" stroke="#000" stroke-width="2.5" fill="none"/>
<path d="M124.3 606.65h13.6M1359.1 606.65h-13.6" stroke="#000" stroke-width="2.5" fill="none"/>
<path d="M124.3 1032.50h13.6M1359.1 1032.50h-13.6" stroke="#000" stroke-width="2.5" fill="none"/>
<path d="M124.3 1420.90h13.6M1359.1 1420.90h-13.6" stroke="#000" stroke-width="2.5" fill="none"/>
<text x="70.08" y="82.90" class="n">1.0</text>
<text x="68.72" y="216.20" class="n">0.5</text>
<text x="93.83" y="349.86" class="n">0</text>
<text transform="matrix(0.24428 0 0 0.34537 95.253 454.400)" font-size="100.0">1</text>
<text x="93.13" y="616.26" class="n">0</text>
<text transform="matrix(0.25280 0 0 0.35143 95.078 775.000)" font-size="100.0">1</text>
<text x="67.42" y="883.60" class="n">1.5</text>
<text x="68.58" y="1041.60" class="n">1.0</text>
<text x="67.32" y="1200.00" class="n">0.5</text>
<text x="71.32" y="1307.00" class="n">1.5</text>
<text x="72.18" y="1429.20" class="n">1.0</text>
<text x="70.92" y="1552.10" class="n">0.5</text>
<rect x="74.90" y="765.85" width="20.40" height="1.5" fill="#000"/>
<text x="106.87" y="379.30" class="n">2.0</text>
<rect x="88.40" y="370.75" width="19.80" height="1.5" fill="#000"/>
<text x="258.72" y="379.30" class="n">1.5</text>
<rect x="240.10" y="370.75" width="20.30" height="1.5" fill="#000"/>
<text x="413.55" y="379.30" class="n">1.0</text>
<rect x="394.80" y="370.75" width="20.00" height="1.5" fill="#000"/>
<text x="563.14" y="379.30" class="n">0.5</text>
<rect x="546.10" y="370.75" width="20.00" height="1.5" fill="#000"/>
<text x="732.40" y="379.46" class="n">0</text>
<text x="874.29" y="379.30" class="n">0.5</text>
<text x="1028.70" y="379.30" class="n">1.0</text>
<text x="1183.62" y="379.30" class="n">1.5</text>
<text x="1336.57" y="379.30" class="n">2.0</text>
<text x="106.87" y="806.10" class="n">2.0</text>
<rect x="88.40" y="797.55" width="19.80" height="1.5" fill="#000"/>
<text x="258.72" y="806.10" class="n">1.5</text>
<rect x="240.10" y="797.55" width="20.30" height="1.5" fill="#000"/>
<text x="413.55" y="806.10" class="n">1.0</text>
<rect x="394.80" y="797.55" width="20.00" height="1.5" fill="#000"/>
<text x="563.14" y="806.10" class="n">0.5</text>
<rect x="546.10" y="797.55" width="20.00" height="1.5" fill="#000"/>
<text x="732.40" y="806.26" class="n">0</text>
<text x="874.29" y="806.10" class="n">0.5</text>
<text x="1028.70" y="806.10" class="n">1.0</text>
<text x="1183.62" y="806.10" class="n">1.5</text>
<text x="1336.57" y="806.10" class="n">2.0</text>
<text x="106.87" y="1230.40" class="n">2.0</text>
<rect x="88.40" y="1221.85" width="19.80" height="1.5" fill="#000"/>
<text x="258.72" y="1230.40" class="n">1.5</text>
<rect x="240.10" y="1221.85" width="20.30" height="1.5" fill="#000"/>
<text x="413.55" y="1230.40" class="n">1.0</text>
<rect x="394.80" y="1221.85" width="20.00" height="1.5" fill="#000"/>
<text x="563.14" y="1230.40" class="n">0.5</text>
<rect x="546.10" y="1221.85" width="20.00" height="1.5" fill="#000"/>
<text x="732.40" y="1230.56" class="n">0</text>
<text x="874.29" y="1230.40" class="n">0.5</text>
<text x="1028.70" y="1230.40" class="n">1.0</text>
<text x="1183.62" y="1230.40" class="n">1.5</text>
<text x="1336.57" y="1230.40" class="n">2.0</text>
<text x="106.87" y="1581.70" class="n">2.0</text>
<rect x="88.40" y="1573.15" width="19.80" height="1.5" fill="#000"/>
<text x="258.72" y="1581.70" class="n">1.5</text>
<rect x="240.10" y="1573.15" width="20.30" height="1.5" fill="#000"/>
<text x="413.55" y="1581.70" class="n">1.0</text>
<rect x="394.80" y="1573.15" width="20.00" height="1.5" fill="#000"/>
<text x="563.14" y="1581.70" class="n">0.5</text>
<rect x="546.10" y="1573.15" width="20.00" height="1.5" fill="#000"/>
<text x="732.40" y="1581.86" class="n">0</text>
<text x="874.29" y="1581.70" class="n">0.5</text>
<text x="1028.70" y="1581.70" class="n">1.0</text>
<text x="1183.62" y="1581.70" class="n">1.5</text>
<text x="1336.57" y="1581.70" class="n">2.0</text>
<text transform="matrix(0.44386 0 0 0.40364 9.149 32.907)" font-size="100.0">(</text>
<text transform="matrix(0.41838 0 0 0.38673 22.154 33.003)" font-size="100.0" font-style="italic">a</text>
<text transform="matrix(0.43218 0 0 0.40364 42.007 32.907)" font-size="100.0">)</text>
<text transform="matrix(0.43608 0 0 0.39923 9.184 464.401)" font-size="100.0">(</text>
<text transform="matrix(0.41376 0 0 0.40505 22.565 464.604)" font-size="100.0" font-style="italic">b</text>
<text transform="matrix(0.43218 0 0 0.39923 42.007 464.401)" font-size="100.0">)</text>
<text transform="matrix(0.44386 0 0 0.39923 10.349 882.401)" font-size="100.0">(</text>
<text transform="matrix(0.39767 0 0 0.38049 23.777 882.628)" font-size="100.0" font-style="italic">c</text>
<text transform="matrix(0.43997 0 0 0.39923 40.582 882.401)" font-size="100.0">)</text>
<text transform="matrix(0.42440 0 0 0.40475 6.235 1306.083)" font-size="100.0">(</text>
<text transform="matrix(0.43205 0 0 0.40619 19.292 1306.183)" font-size="100.0" font-style="italic">d</text>
<text transform="matrix(0.43218 0 0 0.40475 45.207 1306.083)" font-size="100.0">)</text>
<path d="M1178.1 58.6H1211.7" stroke="#f00" stroke-width="2.4" fill="none"/>
<path d="M1178.1 108.1H1211.7" stroke="#00f" stroke-width="2.4" fill="none"/>
<path d="M1178.1 157.5H1211.7" stroke="#0f0" stroke-width="2.4" fill="none"/>
<text transform="matrix(0.38334 0 0 0.35126 1221.151 67.657)" font-size="100.0" font-style="italic">S</text>
<rect x="1247.0" y="51.90" width="17.3" height="2.10" fill="#000"/>
<rect x="1247.0" y="58.50" width="17.3" height="2.10" fill="#000"/>
<text transform="matrix(0.38334 0 0 0.35126 1221.151 117.057)" font-size="100.0" font-style="italic">S</text>
<rect x="1247.0" y="101.90" width="17.3" height="1.90" fill="#000"/>
<rect x="1247.0" y="108.00" width="17.3" height="2.10" fill="#000"/>
<text transform="matrix(0.38334 0 0 0.34679 1221.151 166.561)" font-size="100.0" font-style="italic">S</text>
<rect x="1247.0" y="151.10" width="17.3" height="2.10" fill="#000"/>
<rect x="1247.0" y="157.50" width="17.3" height="2.10" fill="#000"/>
<rect x="1272.00" y="58.50" width="19.80" height="1.4" fill="#000"/>
<text transform="matrix(0.32997 0 0 0.34747 1294.543 67.508)" font-size="100.0">0.5</text>
<text transform="matrix(0.35156 0 0 0.34529 1273.161 117.063)" font-size="100.0">0</text>
<text transform="matrix(0.32826 0 0 0.34011 1273.250 166.418)" font-size="100.0">0.5</text>
<text transform="matrix(0 -0.46594 0.41674 0 35.693 244.646)" font-size="100.0" font-style="italic">S</text>
<text transform="matrix(0 -0.30322 0.29317 0 48.714 224.433)" font-size="100.0" font-style="italic">c</text>
<path d="M35.20 210.30L8.20 200.50" stroke="#000" stroke-width="1.6" fill="none"/>
<text transform="matrix(0 -0.45958 0.41674 0 35.693 200.639)" font-size="100.0" font-style="italic">S</text>
<text transform="matrix(0 -0.29926 0.29702 0 48.795 180.121)" font-size="100.0" font-style="italic">cmax</text>
<text transform="matrix(0 -0.42459 0.41388 0 62.100 617.502)" font-size="100.0" font-style="italic">L</text>
<text transform="matrix(0 -0.39518 0.38465 0 35.624 1071.216)" font-size="100.0" font-style="italic">c</text>
<text transform="matrix(0 -0.32091 0.30502 0 49.000 1054.308)" font-size="100.0" font-style="italic">x</text>
<path d="M35.40 1036.50L8.20 1026.70" stroke="#000" stroke-width="1.6" fill="none"/>
<text transform="matrix(0 -0.39021 0.38465 0 35.624 1026.200)" font-size="100.0" font-style="italic">c</text>
<text transform="matrix(0 -0.30673 0.30824 0 48.699 1008.968)" font-size="100.0">0</text>
<text transform="matrix(0 -0.40016 0.38049 0 32.928 1464.231)" font-size="100.0" font-style="italic">c</text>
<text transform="matrix(0 -0.32282 0.28541 0 46.100 1446.537)" font-size="100.0" font-style="italic">z</text>
<text transform="matrix(0 -0.30322 0.29317 0 46.014 1434.733)" font-size="100.0" font-style="italic">c</text>
<path d="M32.70 1420.50L5.50 1410.80" stroke="#000" stroke-width="1.6" fill="none"/>
<text transform="matrix(0 -0.40016 0.38049 0 32.928 1410.331)" font-size="100.0" font-style="italic">c</text>
<text transform="matrix(0 -0.31381 0.30824 0 46.299 1393.095)" font-size="100.0">0</text>
<text transform="matrix(0.40566 0 0 0.40331 682.917 1650.706)" font-size="100.0" font-style="italic">t</text>
<text transform="matrix(0.39752 0 0 0.38452 693.680 1650.724)" font-size="100.0" font-style="italic">ω</text>
<text transform="matrix(0.31988 0 0 0.30552 719.074 1664.196)" font-size="100.0" font-style="italic">p</text>
<path d="M737.80 1658.00L750.60 1624.20" stroke="#000" stroke-width="1.7" fill="none"/>
<text transform="matrix(0.42407 0 0 0.40930 752.736 1650.500)" font-size="100.0">2</text>
<text transform="matrix(0.44321 0 0 0.40107 775.294 1650.608)" font-size="100.0">π</text>
</svg>
</body></html>
